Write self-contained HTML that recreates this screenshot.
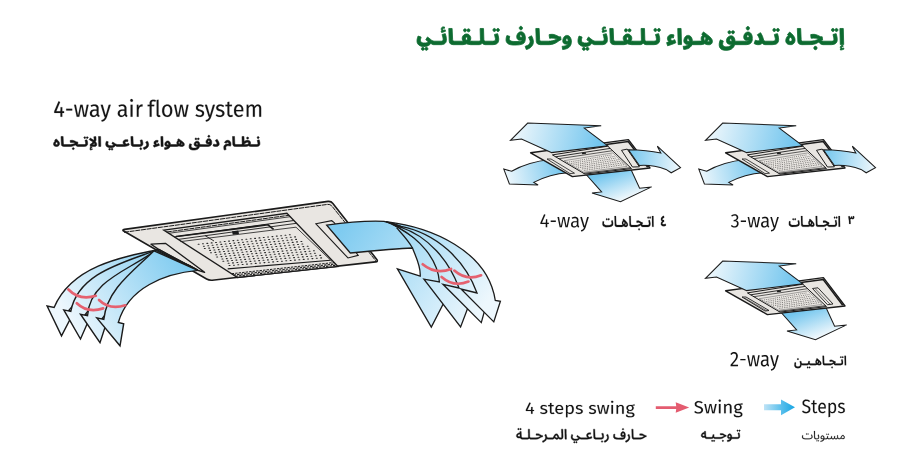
<!DOCTYPE html>
<html><head><meta charset="utf-8"><title>4-way airflow</title>
<style>html,body{margin:0;padding:0;background:#fff;width:904px;height:475px;overflow:hidden;font-family:"Liberation Sans",sans-serif}svg{display:block}</style>
</head><body><svg width="904" height="475" viewBox="0 0 904 475">
<defs>
<linearGradient id="gL" gradientUnits="userSpaceOnUse" x1="185" y1="262" x2="75" y2="330"><stop offset="0" stop-color="#7fcbf0"/><stop offset="1" stop-color="#edf7fd"/></linearGradient>
<linearGradient id="gR" gradientUnits="userSpaceOnUse" x1="340" y1="232" x2="470" y2="325"><stop offset="0" stop-color="#7fcbf0"/><stop offset="1" stop-color="#edf7fd"/></linearGradient>
</defs>
<path d="M124.1 231.3 Q121.5 229.8 124.5 229.4 L328.0 201.4 Q331.0 201.0 332.9 203.4 L376.6 259.2 Q378.5 261.6 375.5 261.9 L212.2 280.2 Q209.2 280.5 206.6 279.0Z" fill="#e9e6e2" stroke="#1b1b1b" stroke-width="1.6"/>
<path d="M124 232.3 L327.5 204.4 Q330.5 204 332.5 206.8 L375.8 260.8" fill="none" stroke="#1b1b1b" stroke-width="1.0" stroke-dasharray="5 0.7"/>
<path d="M163.8 230.1 L286.9 213.3 L338.0 266.5 L237.5 277.5Z" fill="#e9e6e2" stroke="#1b1b1b" stroke-width="1.3"/>
<path d="M166.8 232.0 L288.9 215.3" stroke="#1b1b1b" stroke-width="1.0" stroke-dasharray="5 0.7"/>
<path d="M168.8 233.3 L290.2 216.7" stroke="#1b1b1b" stroke-width="0.8"/>
<path d="M174.3 236.9 L293.9 220.5" stroke="#1b1b1b" stroke-width="1.0"/>
<path d="M176 236.5 L268 224.8 L273.6 229.4" fill="none" stroke="#1b1b1b" stroke-width="1.6"/>
<path d="M232 231.3 L238.3 230.5 L239 234 L232.8 234.8Z" fill="#1b1b1b"/>
<path d="M205 235.5 L214 241" fill="none" stroke="#1b1b1b" stroke-width="0.9"/>
<path d="M178.3 239.4 L296.5 223.3" stroke="#1b1b1b" stroke-width="0.9"/>
<path d="M180.5 241.6 L296.0 227.2 L332.0 261.5" fill="none" stroke="#1b1b1b" stroke-width="0.8"/>
<path d="M227.7 268.9 L330.5 260.2" fill="none" stroke="#1b1b1b" stroke-width="1.1"/>
<path d="M198.18 244.3h0.9M202.52 243.8h0.9M206.86 243.4h0.9M211.21 242.9h0.9M215.55 242.5h0.9M219.89 242.0h0.9M224.23 241.5h0.9M228.57 241.1h0.9M232.92 240.6h0.9M237.26 240.2h0.9M241.60 239.7h0.9M245.94 239.3h0.9M250.28 238.8h0.9M254.63 238.4h0.9M258.97 237.9h0.9M263.31 237.5h0.9M267.65 237.0h0.9M271.99 236.6h0.9M276.34 236.1h0.9M280.68 235.7h0.9M285.02 235.2h0.9M289.36 234.8h0.9M203.44 246.2h0.9M207.79 245.7h0.9M212.13 245.3h0.9M216.48 244.8h0.9M220.82 244.4h0.9M225.16 244.0h0.9M229.51 243.5h0.9M233.85 243.1h0.9M238.20 242.6h0.9M242.54 242.2h0.9M246.88 241.7h0.9M251.23 241.3h0.9M255.57 240.9h0.9M259.92 240.4h0.9M264.26 240.0h0.9M268.60 239.5h0.9M272.95 239.1h0.9M277.29 238.7h0.9M281.64 238.2h0.9M285.98 237.8h0.9M290.32 237.3h0.9M294.67 236.9h0.9M204.36 248.5h0.9M208.71 248.1h0.9M213.06 247.6h0.9M217.40 247.2h0.9M221.75 246.8h0.9M226.09 246.3h0.9M230.44 245.9h0.9M234.79 245.5h0.9M239.13 245.0h0.9M243.48 244.6h0.9M247.82 244.2h0.9M252.17 243.7h0.9M256.52 243.3h0.9M260.86 242.9h0.9M265.21 242.5h0.9M269.55 242.0h0.9M273.90 241.6h0.9M278.25 241.2h0.9M282.59 240.7h0.9M286.94 240.3h0.9M291.29 239.9h0.9M295.63 239.4h0.9M209.63 250.4h0.9M213.98 250.0h0.9M218.33 249.6h0.9M222.67 249.2h0.9M227.02 248.7h0.9M231.37 248.3h0.9M235.72 247.9h0.9M240.07 247.5h0.9M244.41 247.0h0.9M248.76 246.6h0.9M253.11 246.2h0.9M257.46 245.8h0.9M261.81 245.3h0.9M266.16 244.9h0.9M270.50 244.5h0.9M274.85 244.1h0.9M279.20 243.6h0.9M283.55 243.2h0.9M287.90 242.8h0.9M292.24 242.4h0.9M296.59 241.9h0.9M300.94 241.5h0.9M210.55 252.8h0.9M214.90 252.4h0.9M219.25 251.9h0.9M223.60 251.5h0.9M227.95 251.1h0.9M232.30 250.7h0.9M236.65 250.3h0.9M241.00 249.9h0.9M245.35 249.4h0.9M249.70 249.0h0.9M254.05 248.6h0.9M258.40 248.2h0.9M262.75 247.8h0.9M267.10 247.4h0.9M271.45 247.0h0.9M275.80 246.5h0.9M280.15 246.1h0.9M284.50 245.7h0.9M288.85 245.3h0.9M293.20 244.9h0.9M297.55 244.5h0.9M301.90 244.0h0.9M215.81 254.7h0.9M220.17 254.3h0.9M224.52 253.9h0.9M228.87 253.5h0.9M233.22 253.1h0.9M237.58 252.7h0.9M241.93 252.3h0.9M246.28 251.8h0.9M250.63 251.4h0.9M254.98 251.0h0.9M259.34 250.6h0.9M263.69 250.2h0.9M268.04 249.8h0.9M272.39 249.4h0.9M276.75 249.0h0.9M281.10 248.6h0.9M285.45 248.2h0.9M289.80 247.8h0.9M294.16 247.4h0.9M298.51 247.0h0.9M302.86 246.6h0.9M307.21 246.2h0.9M216.73 257.0h0.9M221.08 256.6h0.9M225.44 256.2h0.9M229.79 255.8h0.9M234.15 255.4h0.9M238.50 255.0h0.9M242.86 254.6h0.9M247.21 254.2h0.9M251.56 253.8h0.9M255.92 253.4h0.9M260.27 253.0h0.9M264.63 252.6h0.9M268.98 252.3h0.9M273.34 251.9h0.9M277.69 251.5h0.9M282.04 251.1h0.9M286.40 250.7h0.9M290.75 250.3h0.9M295.11 249.9h0.9M299.46 249.5h0.9M303.82 249.1h0.9M308.17 248.7h0.9M222.00 259.0h0.9M226.36 258.6h0.9M230.71 258.2h0.9M235.07 257.8h0.9M239.42 257.4h0.9M243.78 257.0h0.9M248.14 256.6h0.9M252.49 256.2h0.9M256.85 255.8h0.9M261.21 255.5h0.9M265.56 255.1h0.9M269.92 254.7h0.9M274.28 254.3h0.9M278.63 253.9h0.9M282.99 253.5h0.9M287.35 253.1h0.9M291.70 252.7h0.9M296.06 252.3h0.9M300.41 252.0h0.9M304.77 251.6h0.9M309.13 251.2h0.9M313.48 250.8h0.9M222.91 261.3h0.9M227.27 260.9h0.9M231.63 260.5h0.9M235.99 260.1h0.9M240.35 259.8h0.9M244.70 259.4h0.9M249.06 259.0h0.9M253.42 258.6h0.9M257.78 258.2h0.9M262.14 257.9h0.9M266.50 257.5h0.9M270.86 257.1h0.9M275.21 256.7h0.9M279.57 256.3h0.9M283.93 256.0h0.9M288.29 255.6h0.9M292.65 255.2h0.9M297.01 254.8h0.9M301.36 254.4h0.9M305.72 254.1h0.9M310.08 253.7h0.9M314.44 253.3h0.9M228.18 263.2h0.9M232.54 262.9h0.9M236.91 262.5h0.9M241.27 262.1h0.9M245.63 261.7h0.9M249.99 261.4h0.9M254.35 261.0h0.9M258.71 260.6h0.9M263.07 260.3h0.9M267.43 259.9h0.9M271.79 259.5h0.9M276.15 259.1h0.9M280.51 258.8h0.9M284.87 258.4h0.9M289.23 258.0h0.9M293.59 257.6h0.9M297.95 257.3h0.9M302.31 256.9h0.9M306.67 256.5h0.9M311.03 256.2h0.9M315.39 255.8h0.9M319.76 255.4h0.9M229.10 265.5h0.9M233.46 265.2h0.9M237.82 264.8h0.9M242.18 264.5h0.9M246.55 264.1h0.9M250.91 263.7h0.9M255.27 263.4h0.9M259.63 263.0h0.9M264.00 262.6h0.9M268.36 262.3h0.9M272.72 261.9h0.9M277.08 261.5h0.9M281.45 261.2h0.9M285.81 260.8h0.9M290.17 260.5h0.9M294.53 260.1h0.9M298.90 259.7h0.9M303.26 259.4h0.9M307.62 259.0h0.9M311.98 258.6h0.9M316.35 258.3h0.9M320.71 257.9h0.9" stroke="#2a2a2a" stroke-width="1.10" stroke-linecap="round" fill="none"/>
<path d="M231.7 273.7 L334.2 262.5" stroke="#1b1b1b" stroke-width="1.0" stroke-dasharray="2.4 1.1"/>
<path d="M233.6 275.0 L335.5 263.9" stroke="#1b1b1b" stroke-width="1.1" stroke-dasharray="2.4 1.1"/>
<path d="M235.6 276.3 L336.8 265.2" stroke="#1b1b1b" stroke-width="1.1" stroke-dasharray="2.4 1.1"/>
<path d="M151.0 244.2 L165.4 243.3 L204.6 272.3 L197.8 270.4 L159.0 249.6Z" fill="#e9e6e2" stroke="#1b1b1b" stroke-width="1.3" stroke-linejoin="round"/>
<path d="M315.9 223.8 L331.7 220.7 L334.2 222.6 L358.2 255.4 L348.0 258.0Z" fill="#e9e6e2" stroke="#1b1b1b" stroke-width="1.1"/>
<path d="M159.0 249.6 C120.1 257.2 71.5 266.5 54.1 307.5 L47.1 306.0 L61.5 335.9 L74.0 311.8 L68.6 310.6 C97.9 274.5 147.7 239.3 197.8 270.4Z" fill="url(#gL)" stroke="#1b1b1b" stroke-width="1.4" stroke-linejoin="miter" stroke-miterlimit="8"/>
<path d="M157.0 249.8 C125.6 262.3 78.1 272.2 70.8 311.4 L63.8 309.9 L80.5 339.0 L90.7 315.7 L85.3 314.5 C110.2 281.4 149.8 241.2 197.8 270.4Z" fill="url(#gL)" stroke="#1b1b1b" stroke-width="1.4" stroke-linejoin="miter" stroke-miterlimit="8"/>
<path d="M155.5 250.2 C131.7 269.4 89.8 279.6 87.5 315.7 L80.5 314.2 L100.0 342.6 L107.4 320.0 L102.0 318.8 C125.6 291.9 143.6 235.0 197.8 270.4Z" fill="url(#gL)" stroke="#1b1b1b" stroke-width="1.4" stroke-linejoin="miter" stroke-miterlimit="8"/>
<path d="M154.0 250.8 C134.0 270.7 107.0 288.8 103.8 319.4 L96.8 317.9 L120.0 345.8 L123.7 323.7 L118.3 322.5 C128.3 287.5 164.9 273.5 197.8 270.4Z" fill="url(#gL)" stroke="#1b1b1b" stroke-width="1.4" stroke-linejoin="miter" stroke-miterlimit="8"/>
<path d="M68.4 289.5 Q79.4 300.8 95.8 295.8" fill="none" stroke="#e5616f" stroke-width="2.7" stroke-linecap="round"/>
<path d="M76.8 303.2 Q87.4 313.4 103.2 308.4" fill="none" stroke="#e5616f" stroke-width="2.7" stroke-linecap="round"/>
<path d="M99.0 300.0 Q109.5 310.3 125.3 305.3" fill="none" stroke="#e5616f" stroke-width="2.7" stroke-linecap="round"/>
<path d="M326.7 225.2 C345 222.5 365 220.5 384 221.3 L392.0 223.5 L422.0 242.6 C435.6 255.0 445.0 272.9 444.0 291.8 L449.0 292.8 L431.3 327.1 L397.4 268.8 L420.2 276.2 C421.0 266.2 415.8 257.1 412.5 248.0 C400 248.3 375 250.5 350.3 253 Z" fill="url(#gR)" stroke="#1b1b1b" stroke-width="1.3" stroke-linejoin="miter" stroke-miterlimit="8"/>
<path d="M392.0 223.5 L399.0 227.7 C418.9 239.0 437.5 258.1 439.4 282.0 L423.9 279.2 L460.6 327.0 L471.3 298.8 L466.3 297.8 C455.8 263.0 429.4 231.4 392.0 223.5Z" fill="url(#gR)" stroke="#1b1b1b" stroke-width="1.3" stroke-linejoin="miter" stroke-miterlimit="8"/>
<path d="M392.0 223.5 L400.0 227.0 C428.5 236.2 449.0 260.7 459.0 288.0 L443.0 284.3 L481.3 322.6 L487.0 302.0 L482.0 301.0 C473.1 259.0 433.5 229.4 392.0 223.5Z" fill="url(#gR)" stroke="#1b1b1b" stroke-width="1.3" stroke-linejoin="miter" stroke-miterlimit="8"/>
<path d="M392.0 223.5 L401.0 226.4 C436.2 233.3 465.1 259.8 477.0 293.0 L461.0 289.0 L493.8 321.9 L500.4 301.3 L495.3 300.5 C487.6 250.2 430.7 227.0 386.0 221.6Z" fill="url(#gR)" stroke="#1b1b1b" stroke-width="1.3" stroke-linejoin="miter" stroke-miterlimit="8"/>
<path d="M396.5 227.7 C402 234 408 240 412.5 248" fill="none" stroke="#1b1b1b" stroke-width="1.2"/>
<path d="M384 221 C392 222 398 224 404 228 L396 227 Z" fill="#1b1b1b"/>
<path d="M422.7 264.3 Q435.5 275.0 451.1 269.0" fill="none" stroke="#e5616f" stroke-width="2.7" stroke-linecap="round"/>
<path d="M441.6 276.9 Q453.7 287.6 468.5 281.6" fill="none" stroke="#e5616f" stroke-width="2.7" stroke-linecap="round"/>
<path d="M454.3 270.6 Q466.4 281.3 481.1 275.3" fill="none" stroke="#e5616f" stroke-width="2.7" stroke-linecap="round"/>
<defs><linearGradient id="sg1" gradientUnits="userSpaceOnUse" x1="562.0" y1="166.0" x2="506.0" y2="178.0"><stop offset="0" stop-color="#74c6ee"/><stop offset="1" stop-color="#eef7fc"/></linearGradient><linearGradient id="sg2" gradientUnits="userSpaceOnUse" x1="610.0" y1="172.0" x2="620.0" y2="200.0"><stop offset="0" stop-color="#74c6ee"/><stop offset="1" stop-color="#eef7fc"/></linearGradient><linearGradient id="sg3" gradientUnits="userSpaceOnUse" x1="598.0" y1="146.0" x2="515.0" y2="128.0"><stop offset="0" stop-color="#74c6ee"/><stop offset="1" stop-color="#eef7fc"/></linearGradient><linearGradient id="sg4" gradientUnits="userSpaceOnUse" x1="628.0" y1="157.0" x2="680.0" y2="166.0"><stop offset="0" stop-color="#74c6ee"/><stop offset="1" stop-color="#eef7fc"/></linearGradient></defs>
<path d="M550.3 159.6 Q528.0 162.0 511.6 171.3 L503.8 169.1 L509.4 183.9 L538.1 185.0 L533.7 182.4 Q550.0 174.0 568.0 172.8 Z" fill="url(#sg1)" stroke="#1b1b1b" stroke-width="1.05" stroke-linejoin="miter"/>
<path d="M585.7 174.0 L601.6 191.9 L592.0 193.0 L620.5 201.8 L651.6 186.9 L639.6 188.2 L631.0 169.5Z" fill="url(#sg2)" stroke="#1b1b1b" stroke-width="1.05" stroke-linejoin="miter"/>
<path d="M530.6 152.8 L628.4 139.6 L650.0 168.0 L572.4 176.6Z" fill="#e9e6e2" stroke="#1b1b1b" stroke-width="1.4" stroke-linejoin="round"/>
<path d="M606.0 144.4 L628.2 141.5 L647.7 167.2" fill="none" stroke="#1b1b1b" stroke-width="1.5"/>
<path d="M552.4 154.9 L607.8 146.2 L631.5 168.6 L585.0 174.1Z" fill="#e9e6e2" stroke="#1b1b1b" stroke-width="1.0"/>
<path d="M555.7 156.8 L610.2 148.4" stroke="#1b1b1b" stroke-width="0.9"/>
<path d="M558.9 158.7 L612.5 150.7" stroke="#1b1b1b" stroke-width="0.7"/>
<path d="M582.0 153.6 L586.0 153.0" stroke="#1b1b1b" stroke-width="1.5"/>
<path d="M564.2 160.7 L612.9 152.9 L627.1 166.4 L583.7 172.2Z" fill="#ebe8e4" stroke="#555" stroke-width="0.5"/>
<path d="M567.54 162.3h0.01M569.43 161.9h0.01M571.32 161.6h0.01M573.21 161.3h0.01M575.10 161.0h0.01M576.99 160.7h0.01M578.88 160.4h0.01M580.77 160.0h0.01M582.66 159.7h0.01M584.55 159.4h0.01M586.44 159.1h0.01M588.33 158.8h0.01M590.22 158.5h0.01M592.11 158.1h0.01M594.00 157.8h0.01M595.89 157.5h0.01M597.78 157.2h0.01M599.67 156.9h0.01M601.56 156.6h0.01M603.45 156.2h0.01M605.33 155.9h0.01M607.22 155.6h0.01M609.11 155.3h0.01M611.00 155.0h0.01M571.26 163.5h0.01M573.12 163.2h0.01M574.98 162.9h0.01M576.83 162.6h0.01M578.69 162.2h0.01M580.55 161.9h0.01M582.41 161.6h0.01M584.26 161.3h0.01M586.12 161.0h0.01M587.98 160.7h0.01M589.84 160.4h0.01M591.69 160.1h0.01M593.55 159.8h0.01M595.41 159.5h0.01M597.27 159.2h0.01M599.13 158.9h0.01M600.98 158.6h0.01M602.84 158.3h0.01M604.70 158.0h0.01M606.56 157.7h0.01M608.41 157.4h0.01M610.27 157.1h0.01M612.13 156.8h0.01M613.99 156.4h0.01M573.12 165.0h0.01M574.94 164.7h0.01M576.77 164.4h0.01M578.60 164.1h0.01M580.42 163.8h0.01M582.25 163.5h0.01M584.07 163.2h0.01M585.90 162.9h0.01M587.72 162.6h0.01M589.55 162.3h0.01M591.38 162.0h0.01M593.20 161.8h0.01M595.03 161.5h0.01M596.85 161.2h0.01M598.68 160.9h0.01M600.51 160.6h0.01M602.33 160.3h0.01M604.16 160.0h0.01M605.98 159.7h0.01M607.81 159.4h0.01M609.64 159.1h0.01M611.46 158.8h0.01M613.29 158.5h0.01M615.11 158.2h0.01M576.80 166.2h0.01M578.59 165.9h0.01M580.39 165.6h0.01M582.18 165.4h0.01M583.98 165.1h0.01M585.77 164.8h0.01M587.57 164.5h0.01M589.36 164.2h0.01M591.15 163.9h0.01M592.95 163.7h0.01M594.74 163.4h0.01M596.54 163.1h0.01M598.33 162.8h0.01M600.12 162.5h0.01M601.92 162.3h0.01M603.71 162.0h0.01M605.51 161.7h0.01M607.30 161.4h0.01M609.10 161.1h0.01M610.89 160.8h0.01M612.68 160.6h0.01M614.48 160.3h0.01M616.27 160.0h0.01M618.07 159.7h0.01M578.69 167.7h0.01M580.45 167.4h0.01M582.21 167.2h0.01M583.98 166.9h0.01M585.74 166.6h0.01M587.50 166.4h0.01M589.26 166.1h0.01M591.03 165.8h0.01M592.79 165.5h0.01M594.55 165.3h0.01M596.31 165.0h0.01M598.08 164.7h0.01M599.84 164.5h0.01M601.60 164.2h0.01M603.36 163.9h0.01M605.13 163.6h0.01M606.89 163.4h0.01M608.65 163.1h0.01M610.41 162.8h0.01M612.18 162.6h0.01M613.94 162.3h0.01M615.70 162.0h0.01M617.46 161.7h0.01M619.22 161.5h0.01M582.34 168.9h0.01M584.07 168.7h0.01M585.80 168.4h0.01M587.53 168.2h0.01M589.26 167.9h0.01M590.99 167.6h0.01M592.73 167.4h0.01M594.46 167.1h0.01M596.19 166.9h0.01M597.92 166.6h0.01M599.65 166.3h0.01M601.38 166.1h0.01M603.11 165.8h0.01M604.84 165.6h0.01M606.57 165.3h0.01M608.30 165.1h0.01M610.03 164.8h0.01M611.76 164.5h0.01M613.49 164.3h0.01M615.22 164.0h0.01M616.95 163.8h0.01M618.68 163.5h0.01M620.41 163.2h0.01M622.15 163.0h0.01M584.26 170.4h0.01M585.96 170.2h0.01M587.66 169.9h0.01M589.36 169.7h0.01M591.06 169.4h0.01M592.76 169.2h0.01M594.46 168.9h0.01M596.15 168.7h0.01M597.85 168.5h0.01M599.55 168.2h0.01M601.25 168.0h0.01M602.95 167.7h0.01M604.65 167.5h0.01M606.35 167.2h0.01M608.05 167.0h0.01M609.74 166.7h0.01M611.44 166.5h0.01M613.14 166.2h0.01M614.84 166.0h0.01M616.54 165.7h0.01M618.24 165.5h0.01M619.94 165.2h0.01M621.64 165.0h0.01M623.34 164.7h0.01" stroke="#6a6866" stroke-width="1.00" stroke-linecap="round" fill="none"/>
<path d="M583.7 173.3 L630.6 167.7" stroke="#1b1b1b" stroke-width="0.8"/>
<path d="M547.0 159.0 L551.0 159.0 L574.5 173.2 L570.0 173.6Z" fill="#e9e6e2" stroke="#1b1b1b" stroke-width="0.8"/>
<path d="M621.5 150.3 L627.2 149.1 L639.4 166.8 L632.5 167.0Z" fill="#e9e6e2" stroke="#1b1b1b" stroke-width="1.0"/>
<path d="M551.3 152.6 L521.5 139.0 L510.5 140.3 L527.7 123.1 L601.2 125.7 L584.3 128.1 L607.8 145.8Z" fill="url(#sg3)" stroke="#1b1b1b" stroke-width="1.05" stroke-linejoin="miter"/>
<path d="M628.4 149.7 Q647.0 150.0 660.8 153.1 L657.3 146.2 L680.5 167.6 L671.2 172.8 L666.0 169.4 Q652.0 164.5 639.4 165.5 Z" fill="url(#sg4)" stroke="#1b1b1b" stroke-width="1.05" stroke-linejoin="miter"/>
<defs><linearGradient id="sg5" gradientUnits="userSpaceOnUse" x1="757.0" y1="166.0" x2="701.0" y2="178.0"><stop offset="0" stop-color="#74c6ee"/><stop offset="1" stop-color="#eef7fc"/></linearGradient><linearGradient id="sg6" gradientUnits="userSpaceOnUse" x1="793.0" y1="146.0" x2="710.0" y2="128.0"><stop offset="0" stop-color="#74c6ee"/><stop offset="1" stop-color="#eef7fc"/></linearGradient><linearGradient id="sg7" gradientUnits="userSpaceOnUse" x1="823.0" y1="157.0" x2="875.0" y2="166.0"><stop offset="0" stop-color="#74c6ee"/><stop offset="1" stop-color="#eef7fc"/></linearGradient></defs>
<path d="M745.3 159.6 Q723.0 162.0 706.6 171.3 L698.8 169.1 L704.4 183.9 L733.1 185.0 L728.7 182.4 Q745.0 174.0 763.0 172.8 Z" fill="url(#sg5)" stroke="#1b1b1b" stroke-width="1.05" stroke-linejoin="miter"/>
<path d="M725.6 152.8 L823.4 139.6 L845.0 168.0 L767.4 176.6Z" fill="#e9e6e2" stroke="#1b1b1b" stroke-width="1.4" stroke-linejoin="round"/>
<path d="M801.0 144.4 L823.2 141.5 L842.7 167.2" fill="none" stroke="#1b1b1b" stroke-width="1.5"/>
<path d="M747.4 154.9 L802.8 146.2 L826.5 168.6 L780.0 174.1Z" fill="#e9e6e2" stroke="#1b1b1b" stroke-width="1.0"/>
<path d="M750.7 156.8 L805.2 148.4" stroke="#1b1b1b" stroke-width="0.9"/>
<path d="M753.9 158.7 L807.5 150.7" stroke="#1b1b1b" stroke-width="0.7"/>
<path d="M777.0 153.6 L781.0 153.0" stroke="#1b1b1b" stroke-width="1.5"/>
<path d="M759.2 160.7 L807.9 152.9 L822.1 166.4 L778.7 172.2Z" fill="#ebe8e4" stroke="#555" stroke-width="0.5"/>
<path d="M762.54 162.3h0.01M764.43 161.9h0.01M766.32 161.6h0.01M768.21 161.3h0.01M770.10 161.0h0.01M771.99 160.7h0.01M773.88 160.4h0.01M775.77 160.0h0.01M777.66 159.7h0.01M779.55 159.4h0.01M781.44 159.1h0.01M783.33 158.8h0.01M785.22 158.5h0.01M787.11 158.1h0.01M789.00 157.8h0.01M790.89 157.5h0.01M792.78 157.2h0.01M794.67 156.9h0.01M796.56 156.6h0.01M798.45 156.2h0.01M800.33 155.9h0.01M802.22 155.6h0.01M804.11 155.3h0.01M806.00 155.0h0.01M766.26 163.5h0.01M768.12 163.2h0.01M769.98 162.9h0.01M771.83 162.6h0.01M773.69 162.2h0.01M775.55 161.9h0.01M777.41 161.6h0.01M779.26 161.3h0.01M781.12 161.0h0.01M782.98 160.7h0.01M784.84 160.4h0.01M786.69 160.1h0.01M788.55 159.8h0.01M790.41 159.5h0.01M792.27 159.2h0.01M794.13 158.9h0.01M795.98 158.6h0.01M797.84 158.3h0.01M799.70 158.0h0.01M801.56 157.7h0.01M803.41 157.4h0.01M805.27 157.1h0.01M807.13 156.8h0.01M808.99 156.4h0.01M768.12 165.0h0.01M769.94 164.7h0.01M771.77 164.4h0.01M773.60 164.1h0.01M775.42 163.8h0.01M777.25 163.5h0.01M779.07 163.2h0.01M780.90 162.9h0.01M782.72 162.6h0.01M784.55 162.3h0.01M786.38 162.0h0.01M788.20 161.8h0.01M790.03 161.5h0.01M791.85 161.2h0.01M793.68 160.9h0.01M795.51 160.6h0.01M797.33 160.3h0.01M799.16 160.0h0.01M800.98 159.7h0.01M802.81 159.4h0.01M804.64 159.1h0.01M806.46 158.8h0.01M808.29 158.5h0.01M810.11 158.2h0.01M771.80 166.2h0.01M773.59 165.9h0.01M775.39 165.6h0.01M777.18 165.4h0.01M778.98 165.1h0.01M780.77 164.8h0.01M782.57 164.5h0.01M784.36 164.2h0.01M786.15 163.9h0.01M787.95 163.7h0.01M789.74 163.4h0.01M791.54 163.1h0.01M793.33 162.8h0.01M795.12 162.5h0.01M796.92 162.3h0.01M798.71 162.0h0.01M800.51 161.7h0.01M802.30 161.4h0.01M804.10 161.1h0.01M805.89 160.8h0.01M807.68 160.6h0.01M809.48 160.3h0.01M811.27 160.0h0.01M813.07 159.7h0.01M773.69 167.7h0.01M775.45 167.4h0.01M777.21 167.2h0.01M778.98 166.9h0.01M780.74 166.6h0.01M782.50 166.4h0.01M784.26 166.1h0.01M786.03 165.8h0.01M787.79 165.5h0.01M789.55 165.3h0.01M791.31 165.0h0.01M793.08 164.7h0.01M794.84 164.5h0.01M796.60 164.2h0.01M798.36 163.9h0.01M800.13 163.6h0.01M801.89 163.4h0.01M803.65 163.1h0.01M805.41 162.8h0.01M807.18 162.6h0.01M808.94 162.3h0.01M810.70 162.0h0.01M812.46 161.7h0.01M814.22 161.5h0.01M777.34 168.9h0.01M779.07 168.7h0.01M780.80 168.4h0.01M782.53 168.2h0.01M784.26 167.9h0.01M785.99 167.6h0.01M787.73 167.4h0.01M789.46 167.1h0.01M791.19 166.9h0.01M792.92 166.6h0.01M794.65 166.3h0.01M796.38 166.1h0.01M798.11 165.8h0.01M799.84 165.6h0.01M801.57 165.3h0.01M803.30 165.1h0.01M805.03 164.8h0.01M806.76 164.5h0.01M808.49 164.3h0.01M810.22 164.0h0.01M811.95 163.8h0.01M813.68 163.5h0.01M815.41 163.2h0.01M817.15 163.0h0.01M779.26 170.4h0.01M780.96 170.2h0.01M782.66 169.9h0.01M784.36 169.7h0.01M786.06 169.4h0.01M787.76 169.2h0.01M789.46 168.9h0.01M791.15 168.7h0.01M792.85 168.5h0.01M794.55 168.2h0.01M796.25 168.0h0.01M797.95 167.7h0.01M799.65 167.5h0.01M801.35 167.2h0.01M803.05 167.0h0.01M804.74 166.7h0.01M806.44 166.5h0.01M808.14 166.2h0.01M809.84 166.0h0.01M811.54 165.7h0.01M813.24 165.5h0.01M814.94 165.2h0.01M816.64 165.0h0.01M818.34 164.7h0.01" stroke="#6a6866" stroke-width="1.00" stroke-linecap="round" fill="none"/>
<path d="M778.7 173.3 L825.6 167.7" stroke="#1b1b1b" stroke-width="0.8"/>
<path d="M742.0 159.0 L746.0 159.0 L769.5 173.2 L765.0 173.6Z" fill="#e9e6e2" stroke="#1b1b1b" stroke-width="0.8"/>
<path d="M816.5 150.3 L822.2 149.1 L834.4 166.8 L827.5 167.0Z" fill="#e9e6e2" stroke="#1b1b1b" stroke-width="1.0"/>
<path d="M746.3 152.6 L716.5 139.0 L705.5 140.3 L722.7 123.1 L796.2 125.7 L779.3 128.1 L802.8 145.8Z" fill="url(#sg6)" stroke="#1b1b1b" stroke-width="1.05" stroke-linejoin="miter"/>
<path d="M823.4 149.7 Q842.0 150.0 855.8 153.1 L852.3 146.2 L875.5 167.6 L866.2 172.8 L861.0 169.4 Q847.0 164.5 834.4 165.5 Z" fill="url(#sg7)" stroke="#1b1b1b" stroke-width="1.05" stroke-linejoin="miter"/>
<defs><linearGradient id="sg8" gradientUnits="userSpaceOnUse" x1="805.0" y1="310.0" x2="815.0" y2="338.0"><stop offset="0" stop-color="#74c6ee"/><stop offset="1" stop-color="#eef7fc"/></linearGradient><linearGradient id="sg9" gradientUnits="userSpaceOnUse" x1="793.0" y1="284.0" x2="710.0" y2="266.0"><stop offset="0" stop-color="#74c6ee"/><stop offset="1" stop-color="#eef7fc"/></linearGradient></defs>
<path d="M780.7 312.0 L796.6 329.9 L787.0 331.0 L815.5 339.8 L846.6 324.9 L834.6 326.2 L826.0 307.5Z" fill="url(#sg8)" stroke="#1b1b1b" stroke-width="1.05" stroke-linejoin="miter"/>
<path d="M725.6 290.8 L823.4 277.6 L845.0 306.0 L767.4 314.6Z" fill="#e9e6e2" stroke="#1b1b1b" stroke-width="1.4" stroke-linejoin="round"/>
<path d="M801.0 282.4 L823.2 279.5 L842.7 305.2" fill="none" stroke="#1b1b1b" stroke-width="1.5"/>
<path d="M747.4 292.9 L802.8 284.2 L826.5 306.6 L780.0 312.1Z" fill="#e9e6e2" stroke="#1b1b1b" stroke-width="1.0"/>
<path d="M750.7 294.8 L805.2 286.4" stroke="#1b1b1b" stroke-width="0.9"/>
<path d="M753.9 296.7 L807.5 288.7" stroke="#1b1b1b" stroke-width="0.7"/>
<path d="M777.0 291.6 L781.0 291.0" stroke="#1b1b1b" stroke-width="1.5"/>
<path d="M759.2 298.7 L807.9 290.9 L822.1 304.4 L778.7 310.2Z" fill="#ebe8e4" stroke="#555" stroke-width="0.5"/>
<path d="M762.54 300.3h0.01M764.43 299.9h0.01M766.32 299.6h0.01M768.21 299.3h0.01M770.10 299.0h0.01M771.99 298.7h0.01M773.88 298.4h0.01M775.77 298.0h0.01M777.66 297.7h0.01M779.55 297.4h0.01M781.44 297.1h0.01M783.33 296.8h0.01M785.22 296.5h0.01M787.11 296.1h0.01M789.00 295.8h0.01M790.89 295.5h0.01M792.78 295.2h0.01M794.67 294.9h0.01M796.56 294.6h0.01M798.45 294.2h0.01M800.33 293.9h0.01M802.22 293.6h0.01M804.11 293.3h0.01M806.00 293.0h0.01M766.26 301.5h0.01M768.12 301.2h0.01M769.98 300.9h0.01M771.83 300.6h0.01M773.69 300.2h0.01M775.55 299.9h0.01M777.41 299.6h0.01M779.26 299.3h0.01M781.12 299.0h0.01M782.98 298.7h0.01M784.84 298.4h0.01M786.69 298.1h0.01M788.55 297.8h0.01M790.41 297.5h0.01M792.27 297.2h0.01M794.13 296.9h0.01M795.98 296.6h0.01M797.84 296.3h0.01M799.70 296.0h0.01M801.56 295.7h0.01M803.41 295.4h0.01M805.27 295.1h0.01M807.13 294.8h0.01M808.99 294.4h0.01M768.12 303.0h0.01M769.94 302.7h0.01M771.77 302.4h0.01M773.60 302.1h0.01M775.42 301.8h0.01M777.25 301.5h0.01M779.07 301.2h0.01M780.90 300.9h0.01M782.72 300.6h0.01M784.55 300.3h0.01M786.38 300.0h0.01M788.20 299.8h0.01M790.03 299.5h0.01M791.85 299.2h0.01M793.68 298.9h0.01M795.51 298.6h0.01M797.33 298.3h0.01M799.16 298.0h0.01M800.98 297.7h0.01M802.81 297.4h0.01M804.64 297.1h0.01M806.46 296.8h0.01M808.29 296.5h0.01M810.11 296.2h0.01M771.80 304.2h0.01M773.59 303.9h0.01M775.39 303.6h0.01M777.18 303.4h0.01M778.98 303.1h0.01M780.77 302.8h0.01M782.57 302.5h0.01M784.36 302.2h0.01M786.15 301.9h0.01M787.95 301.7h0.01M789.74 301.4h0.01M791.54 301.1h0.01M793.33 300.8h0.01M795.12 300.5h0.01M796.92 300.3h0.01M798.71 300.0h0.01M800.51 299.7h0.01M802.30 299.4h0.01M804.10 299.1h0.01M805.89 298.8h0.01M807.68 298.6h0.01M809.48 298.3h0.01M811.27 298.0h0.01M813.07 297.7h0.01M773.69 305.7h0.01M775.45 305.4h0.01M777.21 305.2h0.01M778.98 304.9h0.01M780.74 304.6h0.01M782.50 304.4h0.01M784.26 304.1h0.01M786.03 303.8h0.01M787.79 303.5h0.01M789.55 303.3h0.01M791.31 303.0h0.01M793.08 302.7h0.01M794.84 302.5h0.01M796.60 302.2h0.01M798.36 301.9h0.01M800.13 301.6h0.01M801.89 301.4h0.01M803.65 301.1h0.01M805.41 300.8h0.01M807.18 300.6h0.01M808.94 300.3h0.01M810.70 300.0h0.01M812.46 299.7h0.01M814.22 299.5h0.01M777.34 306.9h0.01M779.07 306.7h0.01M780.80 306.4h0.01M782.53 306.2h0.01M784.26 305.9h0.01M785.99 305.6h0.01M787.73 305.4h0.01M789.46 305.1h0.01M791.19 304.9h0.01M792.92 304.6h0.01M794.65 304.3h0.01M796.38 304.1h0.01M798.11 303.8h0.01M799.84 303.6h0.01M801.57 303.3h0.01M803.30 303.1h0.01M805.03 302.8h0.01M806.76 302.5h0.01M808.49 302.3h0.01M810.22 302.0h0.01M811.95 301.8h0.01M813.68 301.5h0.01M815.41 301.2h0.01M817.15 301.0h0.01M779.26 308.4h0.01M780.96 308.2h0.01M782.66 307.9h0.01M784.36 307.7h0.01M786.06 307.4h0.01M787.76 307.2h0.01M789.46 306.9h0.01M791.15 306.7h0.01M792.85 306.5h0.01M794.55 306.2h0.01M796.25 306.0h0.01M797.95 305.7h0.01M799.65 305.5h0.01M801.35 305.2h0.01M803.05 305.0h0.01M804.74 304.7h0.01M806.44 304.5h0.01M808.14 304.2h0.01M809.84 304.0h0.01M811.54 303.7h0.01M813.24 303.5h0.01M814.94 303.2h0.01M816.64 303.0h0.01M818.34 302.7h0.01" stroke="#6a6866" stroke-width="1.00" stroke-linecap="round" fill="none"/>
<path d="M778.7 311.3 L825.6 305.7" stroke="#1b1b1b" stroke-width="0.8"/>
<path d="M742.0 297.0 L746.0 297.0 L769.0 310.5 L765.0 311.0Z" fill="#e9e6e2" stroke="#1b1b1b" stroke-width="0.9"/>
<path d="M744.5 298.0 L766.5 310.6" stroke="#1b1b1b" stroke-width="0.6"/>
<path d="M812.5 288.5 L818.0 287.8 L833.0 304.0 L827.5 304.7Z" fill="#e9e6e2" stroke="#1b1b1b" stroke-width="0.9"/>
<path d="M815.3 288.8 L830.3 304.4" stroke="#1b1b1b" stroke-width="0.6"/>
<path d="M746.3 290.6 L716.5 277.0 L705.5 278.3 L722.7 261.1 L796.2 263.7 L779.3 266.1 L802.8 283.8Z" fill="url(#sg9)" stroke="#1b1b1b" stroke-width="1.05" stroke-linejoin="miter"/>
<defs><linearGradient id="lgB" x1="0" y1="0" x2="1" y2="0"><stop offset="0" stop-color="#bfe3f6"/><stop offset="0.55" stop-color="#5cc0ec"/><stop offset="1" stop-color="#16a5e3"/></linearGradient></defs>
<path d="M655.8 406.2 L676.2 406.2 L675.7 402.2 L689.2 407.4 L675.7 412.7 L676.2 408.9 L655.8 408.9 Z" fill="#e45c70"/>
<path d="M764 404.2 L781 404.2 L781 399.5 L795 407.3 L781 415.2 L781 410.3 L764 410.3 Z" fill="url(#lgB)"/>
<path fill="#0d6b30" d="M587.08 47.33 586.66 47.51 586.16 48.04 586.00 48.49 586.00 49.20 586.16 49.64 586.66 50.18 587.08 50.35 587.74 50.35 588.16 50.18 588.66 49.64 588.82 49.29 588.82 48.40 588.66 48.04 588.16 47.51 587.74 47.33ZM583.50 47.33 583.09 47.51 582.59 48.04 582.42 48.49 582.42 49.11 582.59 49.64 583.09 50.18 583.50 50.35 584.17 50.35 584.58 50.18 585.08 49.64 585.25 49.29 585.25 48.40 585.08 48.04 584.58 47.51 584.17 47.33ZM426.10 47.33 425.52 47.60 425.27 47.86 425.02 48.40 425.02 49.29 425.52 50.09 426.10 50.35 426.68 50.35 427.26 50.09 427.60 49.73 427.85 49.20 427.85 48.49 427.68 48.04 427.26 47.60 426.68 47.33ZM422.53 47.33 421.86 47.69 421.45 48.40 421.45 49.20 421.78 49.91 422.11 50.18 422.53 50.35 423.19 50.35 423.69 50.09 424.11 49.64 424.27 49.20 424.27 48.49 424.11 48.04 423.61 47.51 423.19 47.33ZM814.95 46.35 814.46 46.62 813.96 47.33 813.87 47.60 813.96 48.75 814.54 49.46 815.20 49.73 816.03 49.64 816.45 49.38 816.87 48.84 817.03 48.22 816.95 47.42 816.78 47.06 816.28 46.53 815.87 46.35ZM843.04 45.46 842.46 45.37 841.63 45.46 841.05 45.73 840.55 46.26 840.30 47.24 840.38 47.78 840.63 48.31 841.05 48.66 840.22 48.93 840.55 50.09 842.30 49.73 843.96 49.11 843.63 47.95 842.71 48.31 842.38 48.31 841.71 47.78 841.55 47.33 841.63 46.97 842.05 46.62 843.04 46.71 843.13 46.00ZM531.56 35.77 528.57 37.37 529.90 40.31 530.15 41.46 530.15 42.08 529.73 43.33 529.24 44.04 528.49 44.75 527.41 45.46 525.25 46.26 525.25 46.53 526.24 49.46 526.82 49.38 528.49 48.75 530.32 47.69 531.73 46.35 532.31 45.55 532.89 44.40 533.31 42.88 533.39 40.93 532.81 38.53ZM568.63 35.77 567.21 35.41 566.55 35.41 565.64 35.68 564.89 36.13 564.22 36.75 563.23 38.44 562.81 40.13 562.81 41.64 562.98 42.26 563.31 42.88 564.22 43.68 565.22 44.04 566.55 44.13 567.55 43.86 567.71 44.04 567.05 44.84 565.80 45.64 563.97 46.17 562.23 46.26 562.15 46.35 562.64 49.55 565.47 49.11 567.71 48.22 569.21 47.15 569.79 46.53 570.46 45.55 570.87 44.66 571.37 42.44 571.37 40.93 571.12 39.33 570.37 37.46 569.29 36.21ZM566.55 38.62 567.05 38.53 567.38 38.70 567.80 39.24 568.21 40.93 568.05 41.19 567.46 41.37 566.72 41.37 566.05 41.02 565.88 40.66 565.88 39.77 566.05 39.24ZM673.92 34.88 672.59 34.61 670.85 34.61 670.10 34.79 668.94 35.41 668.19 36.21 667.86 36.75 667.61 37.37 667.44 38.26 667.52 39.42 668.02 40.66 669.02 41.82 666.61 42.62 667.61 45.82 671.68 44.48 675.83 42.80 674.75 39.68 672.34 40.66 672.01 40.66 671.26 40.22 670.85 39.51 670.76 39.06 670.85 38.62 671.35 37.99 671.85 37.82 672.68 37.82 673.42 37.99ZM607.27 37.55 607.02 36.21 606.27 33.64 603.12 34.44 603.62 36.21 604.11 38.70 604.11 39.86 603.95 40.39 603.53 40.84 603.20 41.02 602.20 41.19 595.06 41.19 593.97 40.93 592.65 40.22 590.48 38.62 588.49 36.93 587.08 39.24 586.83 39.86 588.32 40.84 588.91 41.55 588.82 42.00 588.41 42.44 587.58 42.80 586.50 42.97 584.25 42.97 582.67 42.44 581.84 41.64 581.59 41.11 581.43 40.22 581.51 39.24 582.09 37.10 579.10 36.04 578.68 37.10 578.18 38.97 578.02 40.13 578.02 41.64 578.18 42.53 578.60 43.60 578.93 44.13 579.68 44.93 580.26 45.37 581.51 46.00 583.25 46.44 584.17 46.44 584.25 46.53 586.58 46.44 588.57 45.91 590.48 44.84 591.32 44.04 591.81 43.24 592.65 43.95 593.48 44.40 594.56 44.66 602.62 44.66 604.70 44.22 605.28 43.95 606.03 43.42 606.77 42.53 607.11 41.82 607.35 40.75 607.44 39.51 607.35 39.42ZM446.21 37.19 445.80 35.33 445.21 33.55 444.88 33.73 442.14 34.44 442.14 34.70 442.80 37.02 443.14 39.06 443.05 40.13 442.64 40.75 441.89 41.11 441.23 41.19 434.00 41.19 432.75 40.84 431.50 40.13 427.51 36.93 425.77 39.77 427.43 40.93 427.93 41.64 427.85 42.00 427.43 42.44 426.52 42.80 425.44 42.97 423.27 42.97 422.44 42.80 421.53 42.35 420.86 41.64 420.62 41.19 420.45 40.39 420.45 39.68 421.11 37.10 418.12 36.04 417.54 37.55 417.04 39.86 417.04 41.73 417.29 42.88 417.71 43.77 418.79 45.02 420.53 46.00 422.28 46.44 423.19 46.44 423.27 46.53 425.60 46.44 427.60 45.91 428.84 45.29 429.59 44.75 430.26 44.13 430.84 43.24 431.92 44.13 433.50 44.66 441.56 44.66 442.31 44.57 443.72 44.22 444.55 43.77 445.13 43.33 445.71 42.62 446.13 41.73 446.38 40.57 446.38 38.35ZM754.12 43.51 755.45 44.22 757.53 44.66 759.19 44.66 760.10 44.48 761.18 44.04 762.18 43.15 763.10 44.04 764.01 44.48 765.01 44.66 772.82 44.66 772.90 44.57 774.56 44.48 775.65 44.22 776.64 43.77 777.64 42.88 778.30 41.73 778.55 40.66 778.64 39.24 778.55 39.15 778.47 37.37 777.56 33.73 777.22 33.64 774.40 34.44 775.31 38.62 775.23 40.04 775.06 40.39 774.56 40.84 773.73 41.11 772.82 41.11 772.74 41.19 765.51 41.19 764.43 40.93 763.68 40.13 762.60 36.57 761.35 33.99 760.60 32.75 760.44 32.66 757.36 34.70 758.69 36.93 759.52 38.97 759.44 40.31 759.11 40.66 758.69 40.84 757.28 40.84 756.03 40.48 755.37 40.13ZM789.61 32.04 787.45 34.70 788.28 35.41 787.11 36.75 786.20 38.44 785.87 39.51 785.78 41.11 786.03 42.17 786.37 42.88 787.45 43.95 789.11 44.57 791.19 44.66 792.68 44.22 793.68 43.51 794.26 42.80 794.76 41.82 795.01 40.84 795.09 40.13 795.01 40.04 795.01 39.06 794.59 37.55 793.51 35.68 791.44 33.46ZM790.35 37.19 790.52 37.19 791.02 37.64 791.52 38.26 791.85 38.88 792.02 39.51 792.02 40.13 791.77 40.75 791.44 41.11 790.85 41.37 790.19 41.37 789.61 41.19 789.11 40.75 788.86 39.95 789.11 38.79 789.52 38.08ZM751.79 34.88 751.13 33.64 750.30 32.75 749.72 32.39 748.64 32.04 747.47 32.04 746.31 32.39 745.06 33.37 744.40 34.35 743.82 36.04 743.73 37.55 743.82 38.08 744.15 38.88 744.81 39.68 745.73 40.22 746.39 40.39 747.64 40.39 748.47 40.13 748.72 40.22 748.30 40.75 747.80 41.02 746.56 41.19 735.17 41.19 735.01 41.02 734.92 39.86 734.42 38.17 733.84 37.19 733.26 36.57 732.35 36.04 731.68 35.86 730.52 35.86 729.44 36.13 728.36 36.75 727.19 38.08 726.78 38.97 726.53 39.86 726.45 40.57 726.53 41.73 727.03 42.88 727.86 43.68 729.27 44.31 730.60 44.57 731.18 44.57 731.27 44.66 731.18 44.93 730.35 45.82 729.94 46.09 728.36 46.71 725.86 46.89 724.12 46.44 723.21 45.73 722.79 45.02 722.62 44.40 722.71 42.97 723.29 41.02 720.30 39.86 719.55 42.00 719.22 43.77 719.22 45.55 719.55 46.97 720.13 48.04 720.96 48.93 722.12 49.64 724.20 50.26 727.03 50.35 729.44 49.91 730.85 49.38 731.76 48.84 732.43 48.31 733.68 46.89 734.26 45.82 734.67 44.66 746.23 44.66 748.22 44.40 749.63 43.95 750.63 43.33 751.29 42.62 752.04 41.02 752.29 39.77 752.29 38.53 752.38 38.44 752.29 38.35 752.21 36.39ZM730.27 38.88 730.60 38.70 731.02 38.70 731.43 39.06 731.76 40.22 731.76 41.28 731.68 41.37 730.68 41.28 729.94 40.84 729.77 40.48 729.77 39.68ZM747.47 34.97 748.05 34.88 748.64 35.41 748.88 35.95 749.05 36.75 748.97 37.37 747.89 37.55 747.31 37.37 747.06 37.10 746.89 36.75 746.89 35.95 747.14 35.33ZM712.32 40.39 711.82 39.15 711.32 38.44 709.99 37.02 707.83 35.15 703.51 31.95 703.26 32.12 701.76 34.44 702.84 35.15 702.93 35.33 702.26 35.77 701.85 36.21 701.35 37.19 701.18 37.82 701.18 39.42 701.43 40.39 701.76 41.02 701.68 41.11 692.54 41.19 692.37 40.93 692.29 39.77 691.87 38.35 691.29 37.19 690.54 36.30 689.55 35.68 688.72 35.41 687.55 35.41 686.89 35.59 685.89 36.21 685.06 37.10 684.56 37.90 684.15 38.88 683.90 39.95 683.81 40.84 683.90 41.64 684.39 42.88 685.06 43.60 686.14 44.22 687.39 44.57 688.13 44.57 688.22 44.75 687.22 45.46 685.81 46.00 684.23 46.26 683.23 46.26 683.73 49.46 684.39 49.46 686.39 49.11 687.55 48.75 688.88 48.13 690.05 47.33 691.13 46.17 691.96 44.66 700.93 44.66 702.76 44.40 703.76 44.13 704.51 43.77 704.76 43.77 705.92 44.31 707.41 44.66 709.33 44.75 710.16 44.57 711.32 43.95 711.99 43.06 712.32 42.00ZM708.25 39.24 709.16 40.13 709.41 40.75 709.41 41.11 708.99 41.64 708.74 41.73 707.41 41.64 707.33 41.55 707.58 41.28 707.91 40.57ZM687.72 38.53 688.22 38.53 688.80 39.06 689.21 40.22 689.30 40.75 689.21 41.46 687.88 41.37 687.14 40.93 686.97 40.48 687.05 39.51 687.30 38.97ZM705.09 36.93 705.42 37.19 705.67 37.64 705.75 38.62 705.59 39.42 705.34 39.95 704.76 40.48 704.26 39.95 703.92 38.97 703.92 37.99 704.09 37.46 704.51 37.02ZM524.83 34.79 524.25 33.64 523.50 32.75 522.34 32.04 521.59 31.86 520.51 31.86 519.51 32.12 518.51 32.75 517.77 33.55 517.02 34.97 516.77 36.04 516.77 37.55 517.18 38.79 518.02 39.68 518.93 40.13 520.43 40.31 521.67 39.95 521.84 40.04 521.67 40.57 521.26 40.93 520.76 41.19 519.26 41.46 513.94 41.55 513.86 41.46 512.20 41.37 510.95 41.02 510.04 40.48 509.37 39.51 509.29 38.44 509.71 36.30 506.88 35.59 506.46 36.84 506.13 38.53 506.05 40.39 506.21 41.28 506.80 42.53 507.63 43.42 508.79 44.13 510.79 44.75 512.95 45.02 516.69 45.02 516.77 44.93 519.18 44.84 521.76 44.31 522.84 43.86 523.75 43.24 524.25 42.71 524.91 41.37 525.33 39.24 525.33 37.02ZM520.51 34.79 520.92 34.70 521.34 34.88 521.59 35.15 522.00 36.30 522.09 36.93 522.00 37.19 521.51 37.37 520.59 37.37 520.09 37.02 519.84 36.21 519.93 35.59ZM732.68 30.70 732.10 30.97 731.76 31.32 731.60 31.68 731.60 32.66 732.10 33.46 732.60 33.73 733.26 33.73 733.84 33.46 734.18 33.10 734.42 32.48 734.42 31.95 734.18 31.32 733.84 30.97 733.26 30.70ZM729.11 30.70 728.52 30.97 728.11 31.50 728.03 32.66 728.52 33.46 729.11 33.73 729.77 33.73 730.27 33.46 730.60 33.10 730.85 32.48 730.85 31.95 730.60 31.32 730.27 30.97 729.69 30.70ZM629.21 28.83 628.63 29.10 628.21 29.63 628.13 30.79 628.46 31.41 628.80 31.68 629.71 31.86 630.38 31.59 630.71 31.24 630.96 30.61 630.96 29.99 630.79 29.55 630.38 29.10 629.79 28.83ZM625.64 28.83 624.97 29.19 624.56 29.90 624.56 30.70 624.72 31.15 625.22 31.68 625.72 31.86 626.22 31.86 626.80 31.59 627.13 31.24 627.38 30.70 627.38 29.99 627.22 29.55 626.80 29.10 626.22 28.83ZM467.90 28.92 467.32 29.46 467.15 29.81 467.07 30.35 467.15 30.88 467.40 31.32 467.99 31.77 468.24 31.86 469.07 31.77 469.48 31.50 469.90 30.88 469.98 30.52 469.90 29.81 469.73 29.46 469.07 28.92 468.82 28.83ZM464.66 28.83 464.08 29.10 463.75 29.46 463.58 29.81 463.58 30.79 463.83 31.32 464.25 31.68 464.74 31.86 465.24 31.86 466.07 31.32 466.32 30.88 466.41 30.17 466.16 29.46 465.82 29.10 465.24 28.83ZM839.89 28.48 840.30 44.57 843.71 44.57 843.29 28.48ZM836.15 28.48 835.56 28.75 835.32 29.01 835.07 29.55 835.07 30.35 835.56 31.24 836.15 31.50 836.73 31.50 837.31 31.24 837.64 30.88 837.89 30.35 837.89 29.63 837.73 29.19 837.31 28.75 836.73 28.48ZM832.57 28.48 831.91 28.83 831.66 29.19 831.49 29.63 831.49 30.35 831.82 31.06 832.16 31.32 832.57 31.50 833.24 31.50 833.74 31.24 834.24 30.61 834.32 29.63 834.15 29.19 833.65 28.66 833.24 28.48ZM797.34 28.48 797.83 41.55 798.08 42.53 798.42 43.24 798.91 43.77 799.91 44.31 801.82 44.66 812.05 44.57 813.62 44.31 815.70 43.68 818.03 42.53 818.94 41.91 819.53 42.97 820.11 43.60 820.77 44.04 821.94 44.48 823.10 44.66 831.41 44.66 833.65 44.40 835.23 43.77 836.40 42.71 836.98 41.55 837.23 40.22 837.14 37.90 836.89 36.39 836.15 33.64 834.57 33.99 832.99 34.53 833.82 37.90 833.90 39.86 833.74 40.31 833.32 40.75 832.74 41.02 831.41 41.19 823.76 41.19 821.85 40.93 821.10 40.48 821.94 40.04 822.60 39.95 822.18 36.75 820.85 36.75 820.27 36.57 817.36 35.15 815.45 34.53 814.21 34.35 812.54 34.35 810.72 34.61 810.72 35.33 811.13 38.35 811.63 38.17 812.88 38.17 812.96 38.08 815.37 38.17 816.53 38.35 818.20 38.79 818.28 38.88 817.53 39.42 816.53 39.95 814.54 40.66 811.88 41.11 810.38 41.11 810.30 41.19 802.57 41.19 802.16 41.11 801.41 40.48 801.16 39.51 800.66 28.48ZM777.56 28.48 776.97 28.75 776.64 29.10 776.48 29.46 776.48 30.43 776.97 31.24 777.47 31.50 778.14 31.50 778.72 31.24 779.05 30.88 779.30 30.26 779.30 29.72 779.05 29.10 778.72 28.75 778.14 28.48ZM773.98 28.48 773.40 28.75 772.99 29.28 772.90 30.43 773.40 31.24 773.98 31.50 774.56 31.50 775.15 31.24 775.48 30.88 775.73 30.26 775.73 29.72 775.48 29.10 775.15 28.75 774.56 28.48ZM677.75 28.48 678.16 44.57 681.49 44.57 681.07 28.48ZM658.63 28.48 658.05 28.75 657.80 29.01 657.55 29.55 657.55 30.35 658.05 31.24 658.63 31.50 659.21 31.50 659.79 31.24 660.13 30.88 660.38 30.35 660.38 29.63 660.21 29.19 659.79 28.75 659.21 28.48ZM655.06 28.48 654.39 28.83 654.14 29.19 653.98 29.63 653.98 30.35 654.31 31.06 654.64 31.32 655.06 31.50 655.72 31.50 656.22 31.24 656.72 30.61 656.80 29.63 656.64 29.19 656.14 28.66 655.72 28.48ZM609.76 28.48 610.26 41.46 610.51 42.53 610.93 43.33 611.76 44.04 612.67 44.40 614.25 44.66 623.81 44.66 625.64 44.40 627.30 43.86 627.63 43.86 629.05 44.31 631.79 44.66 640.35 44.66 641.59 44.40 642.43 43.95 643.26 43.06 644.09 44.04 644.75 44.40 646.08 44.66 653.89 44.66 656.14 44.40 657.72 43.77 658.88 42.71 659.21 42.17 659.63 40.84 659.71 38.70 659.55 37.28 658.63 33.64 658.38 33.64 655.47 34.53 655.97 36.30 656.39 38.44 656.39 39.86 656.22 40.31 655.81 40.75 655.22 41.02 653.89 41.19 646.41 41.19 645.50 40.93 645.09 40.39 644.84 39.24 644.50 28.48 641.10 28.48 641.43 39.95 641.26 40.57 640.85 41.02 640.02 41.19 633.45 41.19 633.37 41.11 631.04 41.19 630.96 40.93 631.46 40.04 631.71 39.15 631.79 38.26 631.62 37.02 631.29 36.21 630.29 34.97 629.21 34.26 628.38 33.99 626.88 33.99 625.80 34.35 624.64 35.15 623.89 36.04 623.48 36.84 623.23 37.90 623.23 38.70 623.48 39.86 624.14 41.02 623.64 41.19 615.00 41.19 614.59 41.11 613.92 40.57 613.59 39.33 613.17 28.66 613.09 28.48ZM627.72 37.10 628.30 37.64 628.55 38.62 628.46 39.06 628.13 39.68 627.38 40.31 626.88 39.77 626.55 39.15 626.47 38.26 626.72 37.64 627.05 37.28 627.38 37.10ZM535.80 28.48 536.30 41.55 536.55 42.53 536.88 43.24 537.38 43.77 538.13 44.22 540.29 44.66 549.43 44.66 551.67 44.40 553.42 43.95 555.00 43.33 556.91 42.26 558.99 40.75 560.40 40.04 561.06 39.95 560.65 36.75 559.32 36.75 558.74 36.57 555.83 35.15 553.92 34.53 552.67 34.35 551.01 34.35 549.18 34.61 549.18 35.33 549.60 38.35 550.09 38.17 551.34 38.17 551.42 38.08 553.83 38.17 555.00 38.35 556.66 38.79 556.74 38.88 556.00 39.42 555.00 39.95 553.00 40.66 550.34 41.11 548.85 41.11 548.76 41.19 541.04 41.19 540.62 41.11 539.87 40.48 539.62 39.51 539.12 28.48ZM497.65 28.48 497.07 28.75 496.74 29.10 496.57 29.46 496.57 30.43 497.07 31.24 497.57 31.50 498.24 31.50 498.82 31.24 499.15 30.88 499.40 30.26 499.40 29.72 499.15 29.10 498.82 28.75 498.24 28.48ZM494.08 28.48 493.50 28.75 493.08 29.28 493.00 30.43 493.50 31.24 494.08 31.50 494.66 31.50 495.24 31.24 495.58 30.88 495.83 30.26 495.83 29.72 495.58 29.10 495.24 28.75 494.66 28.48ZM448.79 28.48 449.20 40.75 449.37 42.00 449.70 42.97 450.37 43.77 451.12 44.22 452.03 44.48 453.28 44.66 462.83 44.66 464.66 44.40 466.57 43.86 468.07 44.31 470.73 44.66 479.37 44.66 480.78 44.31 481.53 43.86 482.28 43.15 482.86 43.86 483.53 44.31 485.02 44.66 492.92 44.66 495.08 44.40 496.74 43.77 497.32 43.33 497.99 42.53 498.40 41.73 498.57 41.11 498.74 39.77 498.65 37.99 498.15 35.41 497.57 33.64 494.50 34.44 495.41 38.62 495.33 40.04 495.16 40.39 494.66 40.84 493.83 41.11 492.92 41.11 492.83 41.19 485.44 41.19 484.52 40.93 484.03 40.22 483.86 39.42 483.53 28.57 483.44 28.48 480.12 28.48 480.45 39.77 480.29 40.57 479.87 41.02 478.96 41.19 472.47 41.19 472.39 41.11 469.98 41.19 469.90 41.02 470.40 40.22 470.73 38.97 470.73 37.46 470.23 36.13 469.48 35.15 468.82 34.61 467.99 34.17 467.32 33.99 465.82 33.99 464.99 34.26 463.75 35.06 463.08 35.77 462.42 37.02 462.25 37.73 462.25 38.97 462.58 40.13 463.17 41.02 462.67 41.19 454.02 41.19 453.61 41.11 452.86 40.48 452.61 39.51 452.11 28.48ZM466.74 37.10 467.32 37.64 467.49 37.99 467.49 38.97 467.24 39.51 466.41 40.31 465.58 39.24 465.49 38.17 465.74 37.64 466.16 37.19ZM605.53 26.97 605.19 26.88 603.70 26.97 602.95 27.32 602.45 27.95 602.29 28.48 602.29 29.55 602.53 30.17 603.03 30.70 602.12 30.97 602.45 32.39 604.03 32.12 606.52 31.32 606.11 29.81 605.36 30.17 604.61 30.26 604.20 29.99 603.78 29.46 603.70 29.01 603.78 28.75 604.28 28.30 605.44 28.39ZM444.55 26.97 442.97 26.88 442.22 27.14 441.56 27.77 441.31 28.39 441.31 29.63 441.56 30.17 442.06 30.70 441.14 30.97 441.47 32.39 441.89 32.39 443.64 31.95 445.55 31.24 445.13 29.81 444.05 30.26 443.64 30.26 442.89 29.63 442.72 29.19 442.80 28.75 443.30 28.30 444.05 28.39 444.47 28.30ZM747.64 26.52 746.97 26.79 746.56 27.23 746.31 27.77 746.31 28.75 746.56 29.28 746.97 29.72 747.56 29.99 748.22 29.99 749.05 29.46 749.38 28.83 749.47 28.12 749.22 27.32 748.72 26.79 748.14 26.52ZM520.59 26.34 520.01 26.61 519.59 27.06 519.35 27.59 519.35 28.57 519.51 29.01 520.01 29.55 520.59 29.81 521.26 29.81 521.92 29.46 522.25 29.01 522.50 28.21 522.42 27.50 522.25 27.14 521.51 26.43Z" stroke="#0d6b30" stroke-width="0.8" stroke-linejoin="round"/>
<path fill="#151515" d="M66.23 108.76 66.23 110.42 72.21 110.42 72.21 108.76ZM214.96 104.86 213.04 104.86 212.92 104.98 209.99 115.15 209.42 113.73 206.94 104.86 204.90 104.86 208.63 116.69 209.31 116.81 208.74 118.23 207.73 119.29 207.16 119.65 205.70 120.00 205.92 121.54 206.94 121.42 208.18 120.95 209.20 120.24 210.33 118.82 211.12 117.04ZM174.07 104.86 176.67 116.69 179.27 116.69 181.30 106.75 181.53 106.99 183.34 116.69 186.05 116.69 188.53 104.86 186.72 104.86 184.69 115.27 184.35 114.32 183.79 111.01 182.43 104.86 180.29 104.86 178.93 111.60 178.03 115.27 177.80 114.68 175.99 104.98 175.88 104.86ZM110.72 104.86 108.80 104.86 108.69 104.98 105.75 115.15 105.19 113.73 102.70 104.86 100.67 104.86 104.40 116.69 105.07 116.81 104.51 118.23 103.49 119.29 102.93 119.65 101.46 120.00 101.69 121.54 102.70 121.42 103.95 120.95 104.96 120.24 106.09 118.82 106.88 117.04ZM74.13 104.86 76.73 116.69 79.21 116.69 79.33 116.57 81.02 107.82 81.36 106.75 81.81 108.29 83.39 116.69 85.99 116.69 86.10 116.57 88.59 104.86 86.78 104.86 84.97 114.44 84.75 115.03 84.52 114.91 82.60 105.09 82.49 104.86 80.34 104.86 78.08 115.27 77.86 114.80 77.63 113.14 77.41 112.55 75.94 104.86ZM130.71 104.74 130.60 104.86 130.60 116.69 132.52 116.69 132.52 104.74ZM246.69 104.74 246.69 116.69 248.50 116.69 248.50 108.29 249.06 107.34 249.96 106.40 250.75 106.04 252.00 106.16 252.45 106.51 252.90 107.46 252.90 116.69 254.82 116.69 254.82 108.17 256.29 106.40 257.08 106.04 258.32 106.16 258.88 106.75 259.22 107.70 259.22 116.69 261.14 116.69 261.14 107.82 260.80 106.28 259.79 104.98 258.66 104.50 257.08 104.62 256.06 105.09 255.27 105.80 254.71 106.63 254.37 105.92 253.69 105.09 252.34 104.50 251.21 104.50 250.42 104.74 249.62 105.21 248.50 106.51 248.27 104.74ZM237.54 104.62 236.07 105.33 235.28 106.16 234.72 107.11 234.04 109.59 234.15 112.78 234.83 114.68 236.41 116.33 238.11 116.93 240.36 116.81 241.38 116.45 242.85 115.51 242.17 114.32 240.93 115.03 240.14 115.27 239.12 115.39 237.99 115.15 237.43 114.80 236.52 113.73 236.07 112.31 236.07 111.48 236.19 111.36 243.30 111.36 243.19 108.29 242.51 106.51 241.15 105.09 240.48 104.74 239.46 104.50ZM236.64 107.22 237.43 106.40 238.22 106.04 239.69 106.16 240.14 106.40 241.15 107.58 241.49 108.88 241.49 109.83 241.38 109.95 236.19 109.95 236.07 108.88ZM219.59 104.50 218.23 104.86 216.88 105.80 216.20 107.22 216.31 108.76 216.65 109.47 217.67 110.42 218.34 110.77 221.05 111.60 221.62 111.96 222.30 112.67 222.41 113.02 222.30 114.20 221.62 114.91 220.38 115.39 218.34 115.15 217.33 114.68 216.76 114.20 215.75 115.39 216.76 116.22 217.89 116.69 219.13 116.93 220.94 116.93 222.18 116.57 223.09 116.10 223.88 115.27 224.33 114.20 224.44 113.49 224.33 112.43 223.99 111.60 223.09 110.65 221.96 110.06 219.02 109.12 218.23 108.29 218.12 107.82 218.23 107.11 218.79 106.40 219.81 106.04 221.05 106.04 223.31 106.99 224.10 105.80 222.18 104.74 221.05 104.50ZM199.26 104.50 197.45 105.09 196.43 106.04 195.98 106.99 195.98 108.53 196.55 109.71 197.23 110.30 198.35 110.89 199.82 111.25 201.40 111.96 202.08 112.78 202.19 113.49 202.08 114.09 201.40 114.91 200.16 115.39 198.13 115.15 196.43 114.20 195.42 115.39 196.10 115.98 198.02 116.81 200.61 116.93 202.19 116.45 203.44 115.51 204.11 114.09 204.00 112.19 203.66 111.48 202.42 110.42 198.58 109.00 198.02 108.41 197.90 107.22 198.58 106.40 199.48 106.04 201.18 106.16 202.98 107.11 203.78 105.80 202.98 105.21 201.86 104.74 200.73 104.50ZM166.40 104.50 164.48 105.21 163.46 106.16 163.01 106.87 162.44 108.17 162.22 109.24 162.22 110.54 162.10 110.65 162.22 112.31 162.89 114.44 164.14 115.98 165.83 116.81 167.86 116.93 169.44 116.45 170.35 115.86 170.91 115.27 171.93 113.26 172.15 112.19 172.27 110.06 171.82 107.70 171.36 106.75 170.57 105.69 169.11 104.74 168.09 104.50ZM166.62 106.04 167.86 106.04 168.43 106.28 169.56 107.34 170.01 108.53 170.24 110.18 170.01 112.90 169.44 114.20 168.77 114.91 167.41 115.39 166.28 115.27 165.49 114.80 164.59 113.61 164.25 112.19 164.14 110.54 164.59 107.82 165.61 106.51ZM142.68 104.62 141.10 104.50 140.08 104.98 139.29 105.80 138.61 107.11 138.39 104.74 136.81 104.74 136.81 116.69 138.61 116.69 138.61 109.95 138.95 108.64 139.63 107.34 140.42 106.63 141.21 106.40 142.45 106.51ZM118.63 105.21 119.08 106.63 121.34 106.04 122.80 106.04 123.82 106.51 124.50 107.58 124.50 109.35 124.39 109.47 121.68 109.47 119.87 109.95 119.08 110.42 118.17 111.48 117.72 113.26 117.95 114.80 118.40 115.62 118.85 116.10 119.87 116.69 120.66 116.93 122.01 116.93 123.60 116.33 124.72 115.15 125.06 115.86 125.63 116.45 126.31 116.81 126.98 116.93 127.32 115.51 126.53 114.80 126.42 114.32 126.42 107.46 125.85 105.92 124.84 104.98 123.60 104.50 121.22 104.50ZM124.39 110.77 124.50 110.89 124.50 113.73 123.37 115.03 122.69 115.39 121.56 115.51 120.55 115.15 120.09 114.68 119.76 113.73 119.76 112.78 120.32 111.60 121.22 111.01 122.01 110.77ZM90.73 105.21 91.18 106.63 93.44 106.04 94.91 106.04 95.81 106.40 96.61 107.46 96.72 109.35 96.61 109.47 93.78 109.47 91.75 110.06 91.07 110.54 90.51 111.13 89.94 112.55 89.94 114.20 90.39 115.39 90.85 115.98 91.97 116.69 92.77 116.93 94.12 116.93 95.59 116.45 96.83 115.15 97.73 116.45 99.09 116.93 99.54 115.62 98.75 114.91 98.52 114.09 98.52 107.34 98.07 106.04 97.17 105.09 95.70 104.50 93.33 104.50ZM96.61 110.77 96.72 110.89 96.72 113.49 96.49 113.97 95.48 115.03 94.80 115.39 93.78 115.51 93.10 115.39 92.31 114.80 91.97 114.09 91.86 113.26 92.20 111.96 92.88 111.25 94.12 110.77ZM227.49 102.02 227.49 104.62 227.38 104.74 225.46 104.74 225.46 106.28 227.38 106.28 227.49 106.40 227.49 114.56 228.06 115.86 229.07 116.69 229.86 116.93 231.10 116.93 232.01 116.69 232.91 116.22 232.23 114.80 231.33 115.27 230.20 115.27 229.52 114.68 229.30 113.85 229.30 106.40 229.41 106.28 231.78 106.28 232.01 104.74 229.41 104.74 229.30 104.62 229.30 101.78ZM58.55 101.31 54.26 111.25 54.26 112.90 60.35 112.90 60.47 113.02 60.47 116.69 62.27 116.69 62.27 113.02 62.39 112.90 64.08 112.90 64.08 111.36 62.39 111.36 62.27 111.25 62.27 107.22 60.58 107.22 60.58 109.35 60.35 111.36 56.40 111.36 56.29 111.25 60.13 102.02ZM156.68 99.89 156.68 115.15 156.91 115.86 157.70 116.69 158.38 116.93 159.51 116.93 160.41 116.57 160.41 116.22 159.96 115.15 158.94 115.27 158.49 114.68 158.49 99.65ZM155.44 100.01 154.09 99.65 152.51 99.65 150.92 100.24 150.25 100.95 149.68 102.37 149.68 104.62 149.57 104.74 147.65 104.74 147.65 106.28 149.57 106.28 149.68 106.40 149.68 116.69 151.60 116.69 151.60 106.40 151.71 106.28 154.09 106.28 154.20 106.04 154.31 104.74 151.71 104.74 151.60 104.62 151.71 102.02 152.28 101.43 152.96 101.19 153.75 101.19 155.33 101.66 155.89 100.24ZM130.71 99.30 130.26 100.01 130.26 100.83 130.48 101.31 131.16 101.78 132.29 101.66 132.74 101.19 132.97 100.48 132.74 99.65 131.95 99.06 131.16 99.06Z" stroke="#151515" stroke-width="0.15" stroke-linejoin="round"/>
<path fill="#151515" d="M111.55 148.38 111.17 148.76 111.07 149.13 111.17 149.60 111.65 150.07 112.42 150.07 112.91 149.60 113.00 149.23 112.91 148.85 112.62 148.48 112.23 148.29ZM109.14 148.38 108.65 148.94 108.65 149.51 109.23 150.07 110.10 149.98 110.49 149.51 110.49 148.94 110.30 148.57 109.81 148.29ZM140.56 147.73 140.27 147.82 139.88 148.19 139.78 149.04 140.27 149.60 140.94 149.69 141.62 149.32 141.72 148.38 141.23 147.82ZM72.98 147.63 72.40 148.10 72.30 148.94 72.50 149.32 72.79 149.51 73.46 149.60 74.04 149.32 74.24 149.04 74.24 148.29 73.75 147.73ZM91.83 147.07 90.87 147.07 90.29 147.35 90.09 147.63 90.00 148.57 90.48 149.13 89.90 149.32 90.09 150.07 91.45 149.79 92.41 149.41 92.22 148.66 91.45 148.94 90.87 148.48 90.87 148.10 91.16 147.82 91.74 147.91 91.83 147.82 91.93 147.16ZM147.52 141.16 145.68 142.00 146.55 143.97 146.65 144.54 146.55 145.29 146.16 146.04 145.58 146.60 143.26 147.73 143.94 149.51 145.10 149.13 147.03 148.01 147.90 147.07 148.39 146.13 148.68 144.63 148.58 143.69 148.00 142.00ZM228.92 140.50 228.15 140.32 227.18 140.32 226.41 140.50 225.73 140.88 224.86 141.72 224.47 142.47 226.12 143.22 226.99 142.38 227.28 142.29 228.05 142.38 228.73 143.13 228.82 143.97 228.73 144.07 226.89 143.97 226.12 144.16 225.24 144.54 224.47 145.19 223.99 146.04 223.79 146.69 223.79 148.19 224.18 150.07 226.12 149.60 225.83 148.10 225.83 147.26 226.12 146.51 226.70 146.04 227.18 145.85 229.02 145.85 230.18 146.13 230.56 146.04 230.95 144.72 230.85 142.85 230.18 141.44 229.69 140.97ZM158.15 140.50 156.99 140.32 155.83 140.41 154.77 140.97 154.19 141.72 153.99 142.29 153.99 143.41 154.28 144.07 154.96 144.72 154.77 144.91 153.32 145.29 153.99 147.16 159.41 145.38 159.41 145.10 158.73 143.51 156.90 144.16 156.51 143.97 156.02 143.41 156.02 142.85 156.31 142.38 156.70 142.19 157.86 142.29ZM129.34 145.01 128.76 143.32 128.47 143.32 127.99 143.60 126.35 144.07 125.77 143.79 125.19 143.04 125.09 142.66 125.19 142.29 125.67 141.72 126.15 141.54 127.70 141.63 127.99 139.85 127.31 139.66 125.19 139.75 124.32 140.13 123.54 140.79 123.06 141.82 123.06 143.04 123.45 143.88 123.83 144.35 123.45 144.54 117.16 144.54 115.61 143.88 112.71 142.00 111.84 143.69 113.20 144.44 113.49 144.72 113.39 145.10 112.81 145.47 111.75 145.66 109.43 145.57 108.56 145.19 108.17 144.82 107.78 144.07 107.88 142.94 108.27 141.82 106.53 141.25 106.24 141.63 105.75 143.32 105.75 145.01 106.33 146.22 106.82 146.69 108.07 147.35 109.43 147.63 111.65 147.63 112.71 147.44 114.16 146.88 115.32 145.76 116.29 146.32 116.97 146.51 123.54 146.51 123.64 146.41 124.70 146.41 127.02 145.94 128.18 145.57ZM217.12 139.29 215.29 140.41 216.64 142.57 216.93 143.41 216.83 143.97 216.54 144.26 216.06 144.44 215.00 144.44 213.74 143.97 212.97 145.85 214.51 146.41 216.54 146.51 217.90 146.13 218.48 145.76 218.86 145.29 219.15 144.72 219.25 144.16 219.06 142.85 218.19 140.88ZM55.97 138.91 54.61 140.50 55.19 140.97 54.42 141.72 53.74 142.85 53.55 143.51 53.55 144.63 53.84 145.38 54.52 146.04 55.87 146.51 57.22 146.51 58.38 146.04 58.96 145.47 59.45 144.54 59.54 143.32 59.35 142.47 58.58 141.16 56.93 139.57ZM56.55 141.91 57.22 142.57 57.61 143.32 57.51 144.16 57.22 144.44 56.64 144.63 55.87 144.44 55.48 143.97 55.58 143.04ZM184.25 143.69 183.77 142.85 182.32 141.44 178.55 138.72 177.49 140.13 178.07 140.69 177.29 141.25 176.81 142.29 176.81 143.32 177.00 143.97 177.29 144.35 177.20 144.54 170.62 144.54 170.43 144.26 170.43 143.60 170.24 142.94 169.66 141.91 169.17 141.44 168.50 141.07 167.05 140.97 165.89 141.63 165.40 142.19 164.92 143.13 164.73 144.63 165.02 145.47 165.60 146.04 166.47 146.41 167.82 146.60 167.34 146.98 166.08 147.44 164.44 147.63 164.73 149.51 165.60 149.51 166.56 149.32 168.11 148.76 169.37 147.82 170.24 146.51 176.91 146.51 177.97 146.32 178.94 145.94 180.97 146.51 182.80 146.41 183.58 146.04 184.16 145.38 184.35 144.72ZM181.55 143.04 182.03 143.41 182.42 143.97 182.42 144.35 182.03 144.72 181.06 144.72 180.97 144.63 181.35 143.88ZM167.34 142.85 167.72 142.85 168.11 143.13 168.50 144.07 168.40 144.63 168.01 144.72 167.24 144.63 166.76 144.26 166.76 143.60ZM179.03 141.72 179.42 141.72 179.81 142.10 179.90 142.38 179.81 143.22 179.23 143.97 178.84 143.60 178.55 142.85 178.65 142.10ZM211.52 140.69 210.84 139.47 210.45 139.10 209.68 138.72 208.81 138.63 208.23 138.72 207.36 139.10 206.78 139.66 206.30 140.41 206.01 141.35 206.10 142.76 206.30 143.13 207.17 143.79 207.94 143.97 208.91 143.88 209.39 143.97 208.81 144.44 207.46 144.63 199.92 144.54 199.43 142.66 198.47 141.54 197.60 141.16 196.34 141.25 195.47 141.63 194.60 142.57 194.12 143.69 194.12 144.82 194.60 145.66 195.08 146.04 196.15 146.41 197.50 146.60 196.73 147.44 195.76 147.91 194.89 148.10 193.15 148.10 192.18 147.82 191.31 147.07 191.12 146.51 191.12 145.85 191.60 144.35 189.76 143.69 189.09 145.76 189.18 147.82 189.67 148.66 190.25 149.23 191.12 149.69 192.76 150.07 194.60 150.07 196.15 149.79 197.69 149.13 198.95 147.91 199.63 146.51 208.04 146.51 209.20 146.32 210.45 145.76 211.13 145.10 211.52 144.35 211.71 143.60 211.71 141.54ZM209.29 143.88 209.39 143.79 209.49 143.88 209.39 143.97ZM196.53 143.04 197.21 142.94 197.50 143.22 197.79 143.97 197.69 144.63 196.82 144.63 196.53 144.54 196.15 144.16 196.15 143.60ZM208.42 140.50 209.00 140.41 209.49 140.88 209.68 141.44 209.58 142.10 208.52 142.19 208.04 141.82 207.94 141.54 208.04 140.97ZM198.08 137.97 197.60 138.25 197.40 138.63 197.40 139.19 197.98 139.75 198.66 139.75 199.14 139.38 199.24 138.63 198.95 138.16 198.56 137.97ZM195.66 137.97 195.08 138.35 194.99 139.19 195.47 139.75 196.24 139.75 196.63 139.47 196.82 139.10 196.73 138.44 196.34 138.07ZM247.09 137.13 246.61 137.69 246.61 138.44 247.19 139.00 248.06 139.00 248.54 138.54 248.64 138.25 248.54 137.60 248.25 137.22 247.87 137.03ZM87.00 136.75 86.51 137.03 86.32 137.41 86.32 137.97 86.90 138.54 87.58 138.54 88.16 137.97 88.16 137.41 87.67 136.85ZM84.58 136.75 84.00 137.13 83.81 137.69 83.90 138.07 84.39 138.54 85.16 138.54 85.64 138.07 85.74 137.60 85.55 137.13 85.26 136.85ZM257.82 136.57 257.15 137.22 257.15 137.97 257.63 138.54 258.60 138.54 259.08 138.07 259.18 137.79 259.08 137.13 258.40 136.57ZM95.80 136.57 93.77 136.85 94.06 138.16 94.06 139.85 93.86 140.32 90.29 138.07 90.09 138.16 89.22 139.57 89.32 139.75 91.83 141.25 92.90 142.10 91.45 143.51 90.19 144.35 90.19 146.41 95.12 146.41 95.89 146.13 96.57 145.47 96.76 145.01 96.67 143.51 96.09 142.47 95.41 141.72 95.80 140.97 96.09 139.38 95.99 137.41ZM94.83 143.88 94.83 144.26 94.54 144.54 94.15 144.63 92.70 144.63 92.61 144.54 94.25 143.22ZM232.50 136.47 232.79 144.54 233.08 145.47 233.66 146.04 234.53 146.41 235.30 146.51 245.55 146.51 247.19 146.32 248.64 145.85 249.41 146.22 250.67 146.51 256.86 146.51 258.31 146.22 259.08 145.76 259.47 145.29 259.85 144.44 259.95 143.88 259.85 142.19 259.18 139.85 257.24 140.32 257.92 143.32 257.82 143.88 257.44 144.35 256.86 144.54 250.77 144.54 250.38 144.35 250.57 143.79 250.48 142.00 249.99 141.16 248.93 140.41 248.16 140.22 246.71 140.32 244.87 141.07 244.29 141.54 244.10 140.13 244.00 136.47 241.97 136.47 242.16 143.60 241.49 144.54 235.78 144.54 235.30 144.35 235.01 144.07 234.82 143.32 234.53 136.47ZM248.54 142.94 248.45 143.60 248.06 143.97 247.48 144.26 245.74 144.54 244.10 144.54 244.00 144.44 245.06 143.32 246.51 142.38 247.67 142.19 247.96 142.29ZM160.86 136.47 161.05 146.32 161.15 146.41 163.18 146.41 162.89 136.47ZM130.89 136.47 131.18 144.72 131.47 145.47 131.86 145.94 132.92 146.41 133.69 146.51 139.88 146.51 141.23 146.22 142.30 145.47 142.68 144.82 142.88 144.16 142.88 142.76 142.49 140.88 142.10 139.85 140.17 140.32 140.85 143.04 140.75 143.97 140.36 144.35 139.78 144.54 134.18 144.54 133.79 144.44 133.40 144.07 133.21 143.51 132.92 136.47ZM98.50 136.47 98.79 146.41 100.82 146.41 100.63 136.66 100.53 136.47ZM60.99 136.47 61.38 144.82 61.77 145.66 62.15 146.04 62.73 146.32 63.89 146.51 71.34 146.41 73.46 145.85 75.40 144.91 76.17 145.85 77.43 146.41 78.01 146.51 84.39 146.51 85.84 146.22 86.61 145.85 87.19 145.29 87.58 144.44 87.67 143.97 87.58 142.10 87.00 140.04 86.80 139.85 84.97 140.32 85.45 142.00 85.64 143.51 85.26 144.26 84.48 144.54 78.20 144.54 77.23 144.35 76.94 144.07 77.04 143.97 77.91 143.79 77.72 141.91 76.85 141.91 74.04 140.69 72.50 140.32 71.05 140.32 70.08 140.50 70.37 142.47 70.85 142.38 73.46 142.47 75.11 143.04 74.62 143.41 73.08 144.07 70.47 144.54 64.28 144.54 63.99 144.44 63.51 143.97 63.41 143.60 63.12 136.47ZM208.42 135.35 208.04 135.63 207.84 136.00 207.84 136.66 208.33 137.22 209.10 137.32 209.68 136.94 209.87 136.57 209.78 135.82 209.29 135.35Z" stroke="#151515" stroke-width="0.5" stroke-linejoin="round"/>
<path fill="#151515" d="M550.71 220.53 550.71 221.88 555.82 221.88 555.82 220.53ZM588.84 217.10 587.21 217.10 587.10 217.22 584.89 225.31 584.54 225.92 581.98 217.22 581.87 217.10 580.24 217.10 583.38 227.15 584.07 227.40 583.73 228.25 583.03 229.23 582.10 229.85 580.94 230.21 581.17 231.44 582.45 231.19 583.26 230.83 584.54 229.60 585.01 228.87 585.59 227.52ZM557.45 217.10 559.66 227.27 561.87 227.27 563.50 219.06 563.73 218.82 565.47 227.27 567.68 227.27 569.89 217.10 568.38 217.10 566.87 224.94 566.52 226.05 564.66 217.10 562.80 217.10 561.05 225.56 560.82 226.05 559.66 220.66 559.08 217.10ZM571.87 217.47 571.75 217.71 572.10 218.70 574.08 218.20 575.35 218.20 576.17 218.57 576.75 219.31 576.87 221.02 576.75 221.15 573.73 221.27 572.91 221.51 572.10 222.00 571.29 222.98 571.05 223.72 571.05 225.19 571.40 226.17 571.75 226.66 572.68 227.27 573.49 227.52 574.77 227.52 576.05 227.03 576.98 226.05 577.80 227.15 578.84 227.52 579.19 226.29 578.61 225.80 578.38 224.82 578.38 219.31 577.91 218.08 576.98 217.22 575.82 216.86 574.19 216.86ZM576.75 222.25 576.87 222.37 576.87 224.58 576.63 225.07 575.82 225.92 575.01 226.29 574.08 226.29 573.61 226.17 573.03 225.68 572.80 225.19 572.68 224.21 572.91 223.35 573.61 222.62 574.54 222.25ZM544.08 214.16 540.36 222.86 540.36 223.96 540.47 224.09 545.59 224.09 545.71 224.21 545.71 227.27 547.22 227.27 547.22 224.21 547.33 224.09 548.85 224.09 548.85 222.74 547.33 222.74 547.22 222.62 547.22 219.19 545.94 219.19 545.82 222.13 545.59 222.74 542.22 222.74 542.10 222.62 545.47 214.77Z" stroke="#151515" stroke-width="0.05" stroke-linejoin="round"/>
<path fill="#151515" d="M638.95 228.33 638.43 228.87 638.33 229.53 638.54 230.07 638.84 230.33 639.36 230.33 639.67 230.07 639.87 229.27 639.46 228.47ZM613.14 222.87 612.63 220.33 611.19 220.87 611.60 222.73 611.60 223.93 611.09 224.60 609.34 225.13 605.95 225.13 604.92 224.87 604.10 224.07 603.89 223.40 604.10 221.53 602.76 221.13 602.45 222.73 602.45 224.60 602.66 225.27 603.38 226.20 604.61 226.87 605.64 227.13 609.85 227.00 611.60 226.47 612.53 225.80 612.94 225.13 613.14 224.33ZM608.52 218.33 608.00 219.00 608.00 219.53 608.41 220.20 608.83 220.33 609.44 219.80 609.44 218.87 609.03 218.33ZM606.56 218.33 606.15 218.73 606.05 219.67 606.26 220.07 606.87 220.33 607.39 219.93 607.49 219.00 607.18 218.47ZM650.05 216.60 649.64 216.87 649.43 217.27 649.43 217.93 649.74 218.47 650.36 218.60 650.77 218.20 650.87 217.27 650.67 216.87ZM648.10 216.60 647.58 217.00 647.38 217.67 647.48 218.07 647.89 218.60 648.41 218.60 648.71 218.33 648.92 217.53 648.51 216.73ZM651.90 216.07 652.11 226.87 653.65 226.87 653.44 216.07ZM629.18 216.07 629.49 225.13 629.69 225.93 630.21 226.60 631.44 227.00 636.69 227.00 637.61 226.87 639.05 226.33 640.59 225.27 641.41 226.47 642.65 227.00 647.89 227.00 649.02 226.73 649.64 226.33 650.26 225.40 650.46 224.33 650.46 223.27 649.84 219.93 648.41 220.47 648.92 223.13 648.92 224.20 648.51 224.87 648.20 225.00 642.55 225.00 642.24 224.87 641.93 224.47 642.34 224.20 642.75 224.20 642.55 222.33 641.83 222.33 639.87 221.13 638.54 220.60 636.58 220.73 636.48 221.00 636.69 222.73 638.74 222.60 640.28 223.27 640.39 223.53 639.36 224.33 637.30 225.00 631.55 225.00 631.13 224.60 630.93 223.53 630.72 216.07ZM614.48 216.07 614.79 225.13 614.99 225.93 615.51 226.60 616.74 227.00 621.88 227.00 623.73 226.33 625.17 227.00 626.41 227.00 627.23 226.60 627.84 225.80 627.95 224.07 627.33 222.73 625.89 221.00 623.53 218.73 623.22 219.00 622.60 220.20 623.01 220.60 622.29 221.40 621.98 222.20 621.98 223.80 622.40 224.87 622.29 225.00 616.84 225.00 616.64 224.87 616.33 224.33 616.23 223.53 616.02 216.07ZM625.79 223.13 626.30 223.80 626.51 224.73 626.20 225.13 625.27 225.13 625.17 225.00 625.48 224.47ZM624.04 221.80 624.45 222.47 624.45 223.13 624.25 223.80 623.83 224.33 623.32 223.40 623.32 222.47 623.73 221.80Z" stroke="#151515" stroke-width="0.15" stroke-linejoin="round"/>
<path fill="#151515" d="M663.84 215.67 662.18 216.62 661.08 218.11 660.86 219.20 661.08 220.29 661.96 221.24 660.97 222.73 660.86 224.50 661.52 225.59 662.84 226.13 664.50 226.13 666.04 225.45 665.60 223.82 664.39 224.23 663.17 224.23 662.62 223.96 662.40 223.55 662.51 223.01 663.17 222.19 664.17 221.51 663.95 219.88 662.84 219.88 662.40 219.34 662.84 218.39 664.28 217.43Z" stroke="#151515" stroke-width="0.15" stroke-linejoin="round"/>
<path fill="#151515" d="M740.80 220.53 740.80 221.88 746.00 221.88 746.00 220.53ZM778.84 217.10 777.22 217.10 777.11 217.22 775.03 224.82 774.56 225.92 774.33 225.56 771.90 217.10 770.29 217.10 773.41 227.15 773.99 227.40 773.52 228.62 772.71 229.48 772.14 229.85 770.98 230.09 771.10 231.44 772.02 231.32 773.41 230.70 774.45 229.72 775.49 227.76ZM747.62 217.10 749.82 227.27 752.02 227.27 753.75 218.82 753.98 219.06 755.49 227.27 757.80 227.27 760.00 217.10 758.49 217.10 758.38 217.22 756.64 226.05 756.18 224.45 754.79 217.10 752.94 217.10 751.55 223.84 750.98 226.05 750.75 225.56 749.13 217.10ZM761.85 217.47 762.19 218.70 764.04 218.20 765.31 218.20 766.24 218.57 766.82 219.55 766.82 221.02 766.70 221.15 763.70 221.27 762.65 221.64 761.85 222.25 761.27 223.11 761.04 224.21 761.15 225.43 761.61 226.41 762.08 226.90 763.00 227.40 764.85 227.52 766.24 226.90 767.05 226.05 767.63 227.03 768.90 227.52 769.25 226.29 768.90 226.17 768.44 225.43 768.44 219.55 768.20 218.70 767.74 217.84 766.70 217.10 765.78 216.86 764.16 216.86ZM766.70 222.25 766.82 222.37 766.82 224.70 766.12 225.68 764.97 226.29 764.04 226.29 763.46 226.05 763.00 225.56 762.77 225.07 762.77 223.84 763.46 222.74 764.62 222.25ZM734.10 214.16 732.48 214.65 731.55 215.26 731.20 215.75 732.01 216.61 733.40 215.63 735.14 215.51 735.71 215.75 736.41 216.49 736.64 217.10 736.64 217.96 736.41 218.70 735.95 219.31 735.14 219.80 733.75 219.92 733.52 221.15 735.14 221.15 736.06 221.51 736.75 222.25 736.99 223.35 736.87 224.45 736.06 225.68 735.02 226.17 733.75 226.17 733.05 225.92 731.78 224.94 730.86 225.92 731.44 226.54 732.71 227.27 733.75 227.52 735.14 227.52 736.41 227.15 737.22 226.66 737.91 225.92 738.49 224.70 738.60 222.86 738.26 221.88 737.80 221.27 737.10 220.78 735.95 220.41 737.10 219.80 737.91 218.94 738.14 218.33 738.26 217.22 738.14 216.49 737.22 215.02 735.83 214.28Z" stroke="#151515" stroke-width="0.05" stroke-linejoin="round"/>
<path fill="#151515" d="M825.42 228.16 824.90 228.69 824.80 229.35 825.01 229.87 825.32 230.13 825.83 230.13 826.14 229.87 826.35 229.08 825.93 228.29ZM799.56 222.77 799.05 220.27 797.61 220.80 798.02 222.64 798.02 223.82 797.50 224.48 795.75 225.01 792.35 225.01 791.32 224.74 790.50 223.95 790.29 223.30 790.50 221.46 789.16 221.06 788.85 222.64 788.85 224.48 789.06 225.14 789.78 226.06 791.01 226.72 792.04 226.98 796.27 226.85 798.02 226.32 798.95 225.66 799.36 225.01 799.56 224.22ZM794.93 218.30 794.41 218.96 794.41 219.48 794.83 220.14 795.24 220.27 795.86 219.75 795.86 218.83 795.44 218.30ZM792.97 218.30 792.56 218.70 792.46 219.62 792.66 220.01 793.28 220.27 793.80 219.88 793.90 218.96 793.59 218.43ZM836.54 216.59 836.13 216.85 835.93 217.25 835.93 217.91 836.23 218.43 836.85 218.56 837.26 218.17 837.37 217.25 837.16 216.85ZM834.59 216.59 834.07 216.99 833.87 217.64 833.97 218.04 834.38 218.56 834.90 218.56 835.20 218.30 835.41 217.51 835.00 216.72ZM838.40 216.07 838.60 226.72 840.15 226.72 839.94 216.07ZM815.63 216.07 815.94 225.01 816.15 225.80 816.66 226.45 817.90 226.85 823.15 226.85 824.08 226.72 825.52 226.19 827.07 225.14 827.89 226.32 829.13 226.85 834.38 226.85 835.51 226.58 836.13 226.19 836.75 225.27 836.96 224.22 836.96 223.17 836.34 219.88 834.90 220.40 835.41 223.03 835.41 224.09 835.00 224.74 834.69 224.88 829.02 224.88 828.71 224.74 828.41 224.35 828.82 224.09 829.23 224.09 829.02 222.25 828.30 222.25 826.35 221.06 825.01 220.54 823.05 220.67 822.95 220.93 823.15 222.64 825.21 222.51 826.76 223.17 826.86 223.43 825.83 224.22 823.77 224.88 818.00 224.88 817.59 224.48 817.38 223.43 817.18 216.07ZM800.90 216.07 801.21 225.01 801.42 225.80 801.93 226.45 803.17 226.85 808.32 226.85 810.17 226.19 811.62 226.85 812.85 226.85 813.68 226.45 814.29 225.66 814.40 223.95 813.78 222.64 812.34 220.93 809.97 218.70 809.66 218.96 809.04 220.14 809.45 220.54 808.73 221.32 808.42 222.11 808.42 223.69 808.83 224.74 808.73 224.88 803.27 224.88 803.07 224.74 802.76 224.22 802.65 223.43 802.45 216.07ZM812.23 223.03 812.75 223.69 812.95 224.61 812.65 225.01 811.72 225.01 811.62 224.88 811.92 224.35ZM810.48 221.72 810.89 222.38 810.89 223.03 810.69 223.69 810.28 224.22 809.76 223.30 809.76 222.38 810.17 221.72Z" stroke="#151515" stroke-width="0.15" stroke-linejoin="round"/>
<path fill="#151515" d="M853.94 216.05 852.83 216.37 852.93 217.42 852.72 217.74 852.32 217.74 852.11 217.53 852.22 216.68 852.11 216.58 851.10 216.47 850.90 217.42 850.59 217.74 850.29 217.74 849.98 217.32 849.68 216.05 848.15 216.47 848.35 217.00 848.96 220.68 849.17 223.95 850.59 223.95 850.59 221.84 850.29 219.32 851.20 219.11 851.50 218.79 852.52 219.21 853.33 219.11 853.84 218.79 854.25 218.05 854.25 217.00Z" stroke="#151515" stroke-width="0.15" stroke-linejoin="round"/>
<path fill="#151515" d="M740.34 358.91 740.34 360.36 745.50 360.36 745.50 358.91ZM778.84 355.23 777.20 355.23 777.08 355.36 774.85 364.05 774.50 364.71 771.92 355.36 771.80 355.23 770.15 355.23 773.32 366.02 774.03 366.29 773.68 367.21 772.97 368.26 772.03 368.92 770.86 369.32 771.09 370.63 772.38 370.37 773.21 369.98 774.50 368.66 774.97 367.87 775.55 366.42ZM747.15 355.23 749.49 366.16 751.61 366.16 753.02 358.65 753.48 356.94 755.25 366.16 757.48 366.16 759.71 355.23 758.18 355.23 756.54 364.44 756.30 364.71 754.42 355.23 752.55 355.23 750.90 363.92 750.55 364.71 748.79 355.23ZM761.70 355.62 761.58 355.88 761.94 356.94 763.93 356.41 765.22 356.41 766.05 356.81 766.63 357.60 766.75 359.44 766.63 359.57 763.58 359.70 762.76 359.97 761.94 360.49 761.12 361.55 760.88 362.34 760.88 363.92 761.23 364.97 761.58 365.50 762.52 366.16 763.35 366.42 764.64 366.42 765.93 365.89 766.87 364.84 767.69 366.02 768.75 366.42 769.10 365.10 768.51 364.58 768.28 363.52 768.28 357.60 767.81 356.28 766.87 355.36 765.69 354.96 764.05 354.96ZM766.63 360.76 766.75 360.89 766.75 363.26 766.52 363.79 765.69 364.71 764.87 365.10 763.93 365.10 763.46 364.97 762.88 364.44 762.64 363.92 762.52 362.86 762.76 361.94 763.46 361.15 764.40 360.76ZM732.47 352.33 731.53 352.86 730.36 354.04 731.42 355.09 732.35 354.04 733.06 353.65 733.65 353.51 734.82 353.65 735.29 353.91 735.99 354.83 736.11 356.81 735.64 358.26 734.58 359.97 730.59 364.71 730.59 366.16 737.87 366.16 738.11 364.71 732.71 364.71 732.59 364.58 735.41 361.28 737.05 358.91 737.75 357.07 737.87 355.62 737.40 353.91 736.23 352.59 734.82 352.07 733.41 352.07Z" stroke="#151515" stroke-width="0.05" stroke-linejoin="round"/>
<path fill="#151515" d="M809.59 366.60 809.09 366.95 808.89 367.53 808.99 367.88 809.39 368.34 809.89 368.34 810.19 368.11 810.39 367.41 809.99 366.72ZM807.60 366.60 807.10 367.07 807.00 367.76 807.30 368.22 808.00 368.34 808.40 367.88 808.40 367.18 808.10 366.72ZM832.00 366.49 831.41 366.95 831.31 367.41 831.41 367.76 831.81 368.22 832.30 368.22 832.70 367.88 832.80 367.18 832.60 366.72ZM821.35 363.02 820.85 361.87 819.65 360.48 817.36 358.40 816.86 358.17 816.17 359.32 816.56 359.79 815.87 360.36 815.47 361.52 815.47 362.21 815.87 363.37 815.77 363.60 810.49 363.60 810.19 363.48 809.69 362.91 809.69 361.98 809.89 361.17 808.99 360.94 808.50 360.94 808.10 362.79 807.70 363.37 807.30 363.60 802.32 363.60 802.02 363.48 801.62 363.02 801.22 361.29 801.02 360.94 799.63 361.40 800.13 363.14 800.23 364.76 800.03 365.45 799.43 366.14 798.53 366.49 797.14 366.49 796.44 366.14 795.84 365.22 795.84 363.95 796.14 362.79 795.15 362.33 794.85 362.33 794.45 363.60 794.35 365.68 794.85 366.95 795.55 367.64 797.04 368.22 798.53 368.22 799.73 367.88 800.43 367.41 801.22 366.37 801.62 364.87 802.52 365.33 807.30 365.33 808.50 364.87 808.99 364.29 809.39 364.87 810.49 365.33 815.47 365.33 816.46 365.10 817.16 364.76 818.66 365.33 819.75 365.33 820.45 365.10 821.15 364.41 821.35 363.72ZM819.15 362.10 819.75 362.68 819.85 363.48 819.55 363.72 818.66 363.72 818.56 363.60 818.95 363.02ZM817.16 360.83 817.66 360.94 817.86 361.29 817.86 362.21 817.36 363.02 816.96 362.56 816.76 361.98 816.86 361.17ZM797.64 358.17 797.24 358.63 797.14 358.98 797.24 359.56 797.54 359.90 798.23 359.90 798.63 359.56 798.73 359.09 798.63 358.63 798.14 358.17ZM842.66 356.32 842.17 356.78 842.07 357.48 842.36 357.94 843.06 358.05 843.46 357.59 843.46 356.90 843.16 356.44ZM840.77 356.32 840.27 356.67 840.17 357.48 840.47 357.94 841.07 358.05 841.47 357.71 841.57 357.01 841.37 356.55ZM844.46 355.86 844.76 365.22 846.15 365.22 845.95 355.86ZM822.54 355.86 822.74 363.25 823.14 364.64 824.04 365.22 824.73 365.33 830.61 365.22 832.50 364.52 833.50 363.83 834.20 364.76 834.99 365.22 840.67 365.33 842.17 364.87 842.76 364.18 842.96 363.72 843.06 361.87 842.46 359.21 841.07 359.67 841.57 361.75 841.57 363.02 840.97 363.60 835.39 363.60 835.09 363.48 834.79 363.14 835.59 362.91 835.39 361.29 834.69 361.29 832.60 360.13 831.51 359.79 829.71 359.90 829.61 360.02 829.71 361.52 829.81 361.64 831.81 361.52 833.20 362.10 833.40 362.33 832.10 363.14 830.41 363.60 824.83 363.60 824.33 363.14 824.23 362.79 824.04 355.86Z" stroke="#151515" stroke-width="0.15" stroke-linejoin="round"/>
<path fill="#151515" d="M611.40 405.12 611.40 413.77 613.04 413.77 613.04 405.12ZM597.14 405.12 599.29 413.77 601.43 413.77 602.95 406.85 603.20 406.51 603.45 407.08 604.84 413.65 604.96 413.77 607.11 413.77 609.25 405.12 607.74 405.12 605.97 412.73 605.72 412.27 604.08 405.12 602.31 405.12 600.42 412.73 600.17 412.27 598.66 405.12ZM591.59 405.01 590.33 405.47 589.45 406.28 589.19 406.97 589.32 408.12 589.70 408.70 590.46 409.27 593.74 410.31 594.37 411.00 594.37 411.92 593.74 412.62 593.10 412.85 591.34 412.85 589.70 412.04 588.82 412.85 589.57 413.42 590.96 413.88 591.72 414.00 593.74 413.88 595.25 413.19 595.75 412.62 596.01 412.04 595.88 410.43 595.50 409.85 594.87 409.39 591.46 408.24 590.83 407.54 590.83 406.97 591.46 406.28 592.10 406.05 593.86 406.16 595.12 406.74 595.75 405.93 595.12 405.47 593.74 405.01ZM578.34 405.01 577.21 405.35 576.07 406.39 575.95 406.74 576.07 408.24 576.96 409.16 577.97 409.62 580.36 410.31 581.12 411.12 581.12 411.81 580.36 412.62 579.73 412.85 577.59 412.73 576.33 412.04 575.57 412.96 577.21 413.77 578.47 414.00 579.73 414.00 581.37 413.54 582.38 412.73 582.76 411.81 582.76 410.89 582.38 410.08 581.37 409.27 578.09 408.24 577.59 407.66 577.59 406.85 577.97 406.39 578.85 406.05 580.49 406.16 581.88 406.74 582.51 405.93 580.49 405.01ZM571.66 405.12 569.51 405.01 568.38 405.47 567.50 406.28 567.24 405.12 565.98 405.12 565.98 417.34 567.50 417.23 567.50 413.19 567.62 413.08 568.63 413.77 569.39 414.00 570.52 414.00 571.53 413.77 572.16 413.42 572.79 412.85 573.30 412.04 573.80 410.08 573.80 408.70 573.55 407.31 572.92 406.05 572.16 405.35ZM569.39 406.05 570.27 406.05 570.90 406.28 571.53 406.85 572.04 408.00 572.04 409.16 572.16 409.27 572.04 410.89 571.53 412.04 571.03 412.50 570.27 412.85 568.76 412.73 568.13 412.39 567.50 411.69 567.50 407.43 568.76 406.28ZM558.41 405.01 557.65 405.24 556.77 405.81 556.01 406.74 555.38 408.70 555.38 410.43 555.64 411.46 556.27 412.62 557.40 413.54 559.04 414.00 560.93 413.88 562.83 412.96 562.32 412.27 562.07 412.15 560.43 412.85 558.66 412.73 557.53 411.81 557.15 411.00 557.02 410.08 557.15 409.96 563.08 409.96 563.21 408.81 562.95 407.43 562.20 406.05 561.06 405.24 560.30 405.01ZM557.15 407.77 557.53 406.97 558.29 406.28 558.92 406.05 559.93 406.05 560.68 406.39 561.31 407.08 561.57 407.66 561.69 408.81 561.57 408.93 557.15 408.93 557.02 408.81ZM542.89 405.01 541.76 405.35 540.62 406.39 540.50 406.74 540.62 408.24 541.51 409.16 542.52 409.62 544.91 410.31 545.67 411.12 545.67 411.81 544.91 412.62 544.28 412.85 542.14 412.73 540.88 412.04 540.12 412.96 541.76 413.77 543.02 414.00 544.28 414.00 545.92 413.54 546.93 412.73 547.31 411.81 547.31 410.89 546.93 410.08 545.92 409.27 542.64 408.24 542.14 407.66 542.14 406.85 542.52 406.39 543.40 406.05 545.04 406.16 546.43 406.74 547.06 405.93 545.04 405.01ZM622.63 405.24 621.49 404.89 620.48 404.89 619.22 405.35 618.08 406.28 617.83 405.12 616.57 405.12 616.57 413.77 618.08 413.77 618.08 407.54 619.22 406.39 619.85 406.05 621.24 406.05 622.00 406.62 622.12 406.97 622.12 413.77 623.76 413.77 623.76 407.31 623.51 406.28ZM634.36 404.20 633.22 404.66 632.09 404.89 630.20 404.89 628.30 405.24 627.80 405.47 626.66 406.62 626.41 407.31 626.54 409.04 626.92 409.62 627.92 410.31 627.04 411.35 626.92 412.15 627.17 412.73 627.67 413.19 628.68 413.54 631.96 413.65 632.84 414.46 632.84 415.15 632.34 415.84 631.46 416.19 630.57 416.30 628.18 416.07 627.55 415.61 627.29 414.81 625.91 414.81 626.16 415.96 626.41 416.42 627.04 416.88 628.68 417.34 631.08 417.34 632.72 417.00 633.73 416.42 634.11 415.96 634.36 415.38 634.36 414.11 633.98 413.42 633.48 412.96 632.09 412.39 629.19 412.39 628.43 411.92 628.43 411.23 628.81 410.77 630.83 410.89 632.09 410.54 633.22 409.62 633.73 408.35 633.73 407.54 633.22 406.51 632.09 405.81 634.74 405.47ZM629.56 405.93 630.57 405.93 631.20 406.16 631.96 406.85 632.09 407.31 632.09 408.58 631.84 409.16 631.20 409.73 630.57 409.96 629.69 409.96 628.93 409.73 628.05 408.70 627.92 408.12 628.05 407.20 628.93 406.16ZM550.21 403.05 549.96 403.16 549.96 405.01 549.83 405.12 548.19 405.12 548.19 406.16 549.71 406.16 549.96 406.39 549.96 412.39 550.46 413.31 551.35 413.88 551.73 414.00 553.62 413.88 554.50 413.42 553.87 412.50 552.99 412.85 551.98 412.73 551.47 412.15 551.47 406.28 551.60 406.16 553.49 406.16 553.74 405.12 551.60 405.12 551.47 405.01 551.47 402.93ZM529.40 402.59 525.86 409.85 525.86 411.00 530.91 411.00 531.04 411.12 531.04 413.77 532.55 413.77 532.55 411.12 532.68 411.00 534.06 411.00 534.06 409.96 532.68 409.96 532.55 409.85 532.55 406.97 531.16 406.97 531.16 408.81 530.91 409.96 527.63 409.96 527.50 409.85 530.78 403.05ZM611.90 400.86 611.40 401.09 611.15 401.55 611.15 402.24 611.78 402.82 612.53 402.82 613.04 402.59 613.29 402.24 613.29 401.55 613.04 401.09Z" stroke="#151515" stroke-width="0.15" stroke-linejoin="round"/>
<path fill="#151515" d="M576.13 441.42 575.66 441.92 575.66 442.55 576.13 443.05 576.59 443.05 577.06 442.68 577.17 442.05 576.82 441.55ZM574.04 441.42 573.57 442.05 573.57 442.55 574.04 443.05 574.50 443.05 574.97 442.68 575.08 442.05 574.73 441.55ZM601.89 440.67 601.43 441.05 601.31 441.67 601.66 442.18 602.36 442.30 602.82 441.80 602.82 441.17 602.36 440.67ZM629.05 434.15 627.66 434.91 628.47 436.66 628.59 437.54 628.47 438.29 628.00 439.17 627.19 440.04 625.34 441.05 625.80 442.30 626.50 442.18 628.12 441.17 628.82 440.55 629.75 438.92 629.98 437.41 629.86 436.41ZM607.81 434.15 606.42 434.91 607.23 436.66 607.35 437.54 607.23 438.29 606.77 439.17 605.95 440.04 604.10 441.05 604.56 442.30 605.26 442.18 606.88 441.17 607.58 440.55 608.51 438.92 608.74 437.41 608.62 436.41ZM592.03 437.91 591.56 436.54 589.47 437.29 588.89 437.04 588.08 436.03 587.97 435.53 588.43 434.53 589.13 434.15 590.63 434.28 590.75 432.77 589.01 432.65 588.20 432.90 587.38 433.40 586.80 434.15 586.57 434.91 586.57 435.91 586.92 436.79 587.50 437.54 587.27 437.79 581.35 437.79 580.31 437.41 577.29 435.28 576.71 436.66 578.10 437.54 578.45 437.91 578.33 438.29 577.17 438.92 574.73 439.04 573.81 438.79 572.88 438.16 572.53 437.41 572.53 436.16 572.88 434.91 571.95 434.53 571.60 434.53 571.02 436.91 571.14 438.04 571.72 439.29 573.11 440.30 574.27 440.55 577.29 440.42 578.80 439.79 579.84 438.67 580.89 439.29 587.15 439.29 590.29 438.67ZM625.10 433.03 624.87 432.52 623.94 431.65 622.67 431.52 621.74 432.02 620.81 433.53 620.69 435.41 621.39 436.41 622.09 436.66 623.36 436.66 623.48 436.54 623.94 436.66 623.83 437.16 623.13 437.79 618.02 437.91 615.94 437.54 615.47 437.29 614.89 436.54 614.77 435.78 615.12 434.40 613.96 434.03 613.73 434.28 613.38 435.91 613.50 437.29 613.96 438.16 614.54 438.67 616.28 439.29 622.09 439.42 624.18 438.92 624.87 438.29 625.34 437.04 625.45 434.53ZM622.78 433.03 623.25 433.03 623.71 433.53 624.06 434.53 623.94 435.03 622.55 435.16 622.20 434.91 622.09 433.90ZM631.72 429.14 631.95 437.29 632.42 438.67 633.23 439.17 633.81 439.29 640.66 439.17 642.40 438.67 645.30 437.04 646.34 436.91 646.23 435.41 645.53 435.41 644.83 435.16 643.09 434.15 642.05 433.78 639.96 433.78 639.61 433.90 639.84 435.41 640.07 435.28 642.51 435.41 643.67 435.91 643.90 436.16 643.67 436.54 641.70 437.41 639.61 437.79 634.39 437.79 633.92 437.66 633.58 437.29 633.34 436.41 633.11 429.14ZM593.42 429.14 593.65 437.04 593.88 438.16 594.46 438.92 595.63 439.29 601.54 439.29 602.82 438.79 603.40 438.16 603.75 437.04 603.75 435.91 603.40 434.03 603.05 433.15 601.66 433.53 602.36 436.03 602.36 436.91 602.01 437.54 601.20 437.79 596.21 437.79 595.51 437.54 595.16 437.04 594.81 429.14ZM564.75 429.14 564.99 439.04 565.10 439.17 566.49 439.17 566.38 434.28 566.26 434.15 566.26 429.77 566.15 429.14ZM562.90 429.14 561.39 429.14 561.50 433.15 561.62 433.28 561.62 437.16 561.27 437.66 560.11 437.79 559.42 437.41 558.95 436.79 558.02 434.66 557.21 433.90 556.05 433.78 555.12 434.28 554.42 435.03 553.26 437.29 552.68 437.79 548.16 437.79 547.46 437.54 547.11 437.16 546.07 434.28 545.84 434.28 544.68 434.91 545.49 436.91 545.37 438.54 544.79 439.54 544.10 440.17 542.35 441.05 542.82 442.43 543.40 442.30 545.37 441.05 546.07 440.30 546.76 438.79 547.69 439.29 552.92 439.29 553.61 439.04 554.42 437.91 555.24 438.79 556.51 439.42 557.67 439.29 558.37 438.54 559.76 439.29 561.16 439.29 562.20 438.92 562.78 438.29 563.13 437.04ZM556.17 435.28 556.51 435.28 557.09 435.91 557.56 436.91 557.56 437.41 557.09 437.91 556.05 437.66 555.12 436.66 555.24 436.16ZM516.36 435.53 516.47 436.66 517.29 437.66 518.21 438.04 520.07 438.04 520.19 437.91 521.12 438.92 522.16 439.29 527.62 439.29 528.66 438.92 529.24 438.29 529.70 438.92 530.52 439.29 536.09 439.29 538.06 438.92 541.08 437.29 542.01 436.91 542.70 436.91 542.59 435.41 541.89 435.41 541.19 435.16 539.45 434.15 538.41 433.78 536.32 433.78 535.97 433.90 536.20 435.41 536.44 435.28 538.87 435.41 540.03 435.91 540.27 436.16 540.03 436.54 538.06 437.41 535.97 437.79 530.87 437.79 530.52 437.66 529.94 437.04 529.82 436.66 529.59 429.14 528.08 429.14 528.20 429.27 528.20 432.77 528.31 432.90 528.31 437.16 527.96 437.66 527.50 437.79 522.51 437.79 521.93 437.54 521.46 436.54 521.23 431.52 519.84 431.52 519.84 432.40 519.61 432.65 518.56 432.90 517.40 433.65 516.82 434.28ZM519.84 434.03 520.07 436.28 519.84 436.54 518.68 436.54 518.10 436.28 517.75 435.78 517.87 435.16 518.45 434.53ZM622.67 428.39 622.32 428.76 622.20 429.39 622.55 429.89 623.25 430.02 623.71 429.52 623.71 428.76 623.36 428.39ZM520.30 428.26 519.84 428.76 519.84 429.52 520.30 429.89 520.77 429.89 521.23 429.39 521.23 428.76 520.77 428.26ZM518.21 428.26 517.75 428.76 517.75 429.39 517.98 429.77 518.68 429.89 519.14 429.39 519.14 428.76 518.68 428.26Z" stroke="#151515" stroke-width="0.35" stroke-linejoin="round"/>
<path fill="#151515" d="M718.89 404.11 718.89 413.33 720.56 413.33 720.56 404.11ZM704.32 404.11 706.51 413.33 708.70 413.33 710.25 405.95 710.51 405.58 710.77 406.20 712.18 413.21 712.31 413.33 714.50 413.33 716.70 404.11 715.15 404.11 713.34 412.22 713.09 411.73 711.41 404.11 709.61 404.11 707.67 412.22 707.41 411.73 705.87 404.11ZM730.36 404.23 729.20 403.86 728.17 403.86 726.88 404.36 725.72 405.34 725.46 404.11 724.17 404.11 724.17 413.33 725.72 413.33 725.72 406.69 726.88 405.46 727.52 405.09 728.94 405.09 729.72 405.71 729.84 406.08 729.84 413.33 731.52 413.33 731.52 406.44 731.26 405.34ZM742.35 403.13 741.19 403.62 740.03 403.86 738.09 403.86 736.16 404.23 735.65 404.48 734.49 405.71 734.23 406.44 734.36 408.29 734.74 408.90 735.77 409.64 734.87 410.75 734.74 411.61 735.00 412.22 735.52 412.71 736.55 413.08 739.90 413.21 740.80 414.07 740.80 414.80 740.29 415.54 739.38 415.91 738.48 416.03 736.03 415.79 735.39 415.29 735.13 414.43 733.71 414.43 733.97 415.66 734.23 416.16 734.87 416.65 736.55 417.14 739.00 417.14 740.67 416.77 741.70 416.16 742.09 415.66 742.35 415.05 742.35 413.70 741.96 412.96 741.45 412.47 740.03 411.85 737.06 411.85 736.29 411.36 736.29 410.62 736.68 410.13 738.74 410.26 740.03 409.89 741.19 408.90 741.70 407.55 741.70 406.69 741.19 405.58 740.03 404.85 742.74 404.48ZM737.45 404.97 738.48 404.97 739.13 405.22 739.90 405.95 740.03 406.44 740.03 407.80 739.77 408.41 739.13 409.03 738.48 409.27 737.58 409.27 736.81 409.03 735.90 407.92 735.77 407.31 735.90 406.32 736.81 405.22ZM697.62 401.04 696.07 401.65 695.17 402.51 694.78 403.37 694.91 405.34 695.17 405.83 696.33 406.81 700.45 408.41 701.23 409.39 701.23 410.75 701.10 411.12 700.32 411.85 699.03 412.34 697.23 412.22 695.81 411.61 695.17 411.12 694.26 412.10 695.42 412.96 696.33 413.33 697.49 413.57 699.29 413.57 700.84 413.21 702.13 412.34 702.51 411.85 703.03 410.38 702.90 408.90 702.51 408.17 701.23 407.06 698.26 406.08 697.10 405.46 696.58 404.97 696.46 404.60 696.46 403.49 697.23 402.63 698.26 402.27 699.94 402.39 701.10 402.88 701.48 403.25 701.74 403.25 702.39 402.63 702.51 402.27 701.61 401.65 700.45 401.16ZM719.40 399.56 718.89 399.81 718.63 400.30 718.63 401.04 719.27 401.65 720.05 401.65 720.56 401.41 720.82 401.04 720.82 400.30 720.56 399.81Z" stroke="#151515" stroke-width="0.12" stroke-linejoin="round"/>
<path fill="#151515" d="M722.68 440.06 722.25 440.42 722.15 440.90 722.47 441.50 723.11 441.62 723.54 441.14 723.54 440.54 723.11 440.06ZM713.90 440.06 713.58 440.30 713.36 440.90 713.68 441.50 714.33 441.62 714.76 441.14 714.76 440.54 714.33 440.06ZM711.97 440.06 711.54 440.54 711.54 441.26 711.97 441.62 712.40 441.62 712.83 441.14 712.83 440.54 712.40 440.06ZM739.18 432.74 737.89 433.22 738.43 435.14 738.53 436.34 738.43 436.70 738.00 437.18 737.46 437.30 732.00 437.30 731.79 437.06 731.79 436.10 731.57 435.26 730.61 433.94 730.07 433.70 729.21 433.70 728.57 434.06 727.72 435.26 727.39 436.46 727.50 437.66 727.93 438.26 728.47 438.62 730.18 438.86 729.54 439.58 729.11 439.82 727.18 440.30 727.39 441.62 727.50 441.74 728.57 441.62 730.18 440.90 731.04 440.06 731.68 438.74 737.46 438.74 738.10 438.62 739.07 438.14 739.60 437.42 739.82 436.22 739.71 434.78ZM729.32 435.26 729.86 435.26 730.29 435.74 730.50 436.46 730.39 437.30 729.21 437.30 728.79 436.94 728.68 436.70 728.79 435.98ZM701.15 435.14 701.26 436.22 702.01 437.18 702.87 437.54 704.58 437.54 704.69 437.42 705.54 438.38 706.51 438.74 711.65 438.74 712.29 438.62 712.93 438.26 713.36 437.78 713.68 438.26 714.86 438.74 720.22 438.74 722.36 438.26 725.04 436.70 726.32 436.34 726.11 435.02 725.14 434.90 723.32 433.82 722.25 433.46 720.43 433.46 720.11 433.58 720.33 435.02 720.54 434.90 722.79 435.02 724.07 435.74 723.65 436.22 722.04 436.94 720.11 437.30 715.08 437.30 714.43 437.06 714.01 436.58 714.01 435.74 714.22 434.78 712.93 434.54 712.61 436.34 711.86 437.18 711.44 437.30 706.83 437.30 706.19 436.94 705.87 436.10 705.65 431.30 704.37 431.30 704.37 432.14 704.15 432.38 703.19 432.62 702.12 433.34 701.58 433.94ZM704.37 433.70 704.58 435.86 704.37 436.10 703.30 436.10 702.76 435.86 702.44 435.38 702.55 434.78 703.08 434.18ZM739.28 429.86 738.85 430.46 738.85 430.94 739.28 431.42 739.71 431.42 740.14 431.06 740.25 430.58 739.93 429.98ZM737.35 429.86 736.93 430.46 736.93 430.94 737.25 431.30 737.78 431.42 738.21 431.06 738.32 430.46 738.00 429.98Z" stroke="#151515" stroke-width="0.35" stroke-linejoin="round"/>
<path fill="#151515" d="M840.55 402.79 839.32 403.32 838.47 404.26 838.22 405.06 838.34 406.41 838.71 407.08 839.45 407.75 842.63 408.95 843.25 409.76 843.25 410.83 842.63 411.64 842.02 411.90 840.30 411.90 838.71 410.96 837.85 411.90 838.59 412.57 839.94 413.11 840.67 413.24 842.63 413.11 844.10 412.31 844.59 411.64 844.84 410.96 844.72 409.09 844.35 408.42 843.74 407.88 840.43 406.54 839.81 405.74 839.81 405.06 840.43 404.26 841.04 403.99 842.75 404.13 843.98 404.80 844.59 403.86 843.98 403.32 842.63 402.79ZM834.42 403.05 833.68 402.79 831.97 402.79 831.11 403.19 830.13 404.26 829.88 403.72 829.88 402.92 828.66 402.92 828.54 403.05 828.54 417.13 830.13 416.86 830.13 412.31 830.25 412.17 830.74 412.71 831.97 413.24 833.56 413.11 834.79 412.44 835.77 410.83 836.14 409.36 836.01 405.74 835.65 404.53 835.16 403.72ZM831.97 403.99 832.83 403.99 833.56 404.39 834.30 405.60 834.54 406.81 834.54 409.09 834.30 410.29 834.05 410.83 833.32 411.64 832.70 411.90 831.60 411.90 830.99 411.64 830.13 410.70 830.13 405.60 831.11 404.39ZM821.18 402.79 819.96 403.46 818.85 404.93 818.36 406.54 818.36 407.88 818.24 408.01 818.36 409.49 818.85 411.10 819.34 411.90 820.08 412.57 821.18 413.11 823.14 413.24 825.23 412.31 825.47 412.04 825.23 411.50 824.74 411.10 824.25 411.50 823.14 411.90 821.55 411.77 821.06 411.50 820.32 410.56 819.96 409.49 819.96 408.69 820.08 408.55 825.84 408.55 825.72 405.87 825.23 404.53 824.25 403.32 823.14 402.79ZM820.45 404.93 821.30 404.13 821.67 403.99 823.02 404.13 824.12 405.33 824.37 406.27 824.37 407.21 824.25 407.34 820.08 407.34 819.96 406.41ZM813.22 400.51 812.97 400.64 812.97 402.79 812.85 402.92 811.38 402.92 811.38 404.13 812.85 404.13 812.97 404.26 812.97 411.10 813.34 412.17 814.32 413.11 814.81 413.24 816.52 413.11 817.38 412.57 816.89 411.50 815.91 411.90 815.30 411.90 814.56 411.23 814.44 410.70 814.44 404.26 814.56 404.13 816.52 404.13 816.65 402.92 814.56 402.92 814.44 402.79 814.44 400.37ZM805.25 399.57 803.78 400.24 802.92 401.18 802.55 402.11 802.67 404.26 802.92 404.80 804.02 405.87 807.94 407.61 808.68 408.69 808.68 410.16 808.56 410.56 807.82 411.37 806.60 411.90 804.88 411.77 803.53 411.10 802.92 410.56 802.06 411.64 803.16 412.57 804.02 412.98 805.13 413.24 806.84 413.24 808.31 412.84 809.54 411.90 809.91 411.37 810.40 409.76 810.27 408.15 809.91 407.34 808.68 406.14 805.86 405.06 804.76 404.39 804.27 403.86 804.14 403.46 804.14 402.25 804.88 401.31 805.86 400.91 807.45 401.04 808.56 401.58 808.93 401.98 809.17 401.98 809.78 401.31 809.91 400.91 809.05 400.24 807.94 399.70Z" stroke="#151515" stroke-width="0.12" stroke-linejoin="round"/>
<path fill="#151515" d="M818.37 440.32 818.06 440.63 818.06 441.04 818.37 441.34 818.78 441.34 819.09 441.04 819.09 440.73 818.88 440.42ZM816.83 440.32 816.52 440.63 816.52 441.14 816.83 441.34 817.24 441.34 817.55 440.83 817.35 440.42ZM844.65 436.76 844.24 435.94 843.62 435.33 843.21 435.13 842.49 435.13 842.08 435.33 841.47 435.94 840.65 437.57 840.03 438.28 839.11 438.39 838.59 438.18 838.18 437.67 837.87 436.25 837.87 435.33 837.05 435.33 837.16 435.43 837.26 437.57 837.16 437.88 836.75 438.28 835.72 438.39 835.21 438.18 835.00 437.98 835.00 437.06 835.21 436.15 834.38 436.04 834.08 437.78 833.77 438.18 833.36 438.39 832.23 438.28 831.92 437.98 831.92 437.06 832.13 436.35 831.61 436.15 831.30 436.15 831.00 437.57 830.48 438.28 828.94 438.39 828.43 438.28 828.02 437.98 827.92 437.27 828.12 436.15 827.40 436.04 826.99 437.78 826.58 438.18 825.86 438.39 824.43 438.39 824.22 436.86 823.91 436.15 822.99 435.43 822.17 435.43 821.55 435.74 820.84 436.76 820.63 437.78 820.73 438.39 821.66 439.10 823.20 439.20 823.30 439.41 822.17 440.53 820.42 440.93 820.63 441.75 822.37 441.34 823.09 440.93 823.71 440.32 824.33 439.20 826.17 439.20 827.10 438.90 827.51 438.49 827.82 438.90 828.84 439.20 830.69 439.10 831.41 438.49 831.92 439.00 832.43 439.20 833.56 439.20 834.08 439.00 834.49 438.59 835.51 439.20 836.44 439.20 837.16 438.90 837.67 438.28 838.39 439.00 839.00 439.20 840.23 439.10 840.95 438.49 842.49 439.10 843.52 439.10 844.14 438.79 844.55 438.28ZM822.07 436.35 822.68 436.25 823.20 436.65 823.50 437.37 823.40 438.39 822.37 438.39 821.55 437.98 821.45 437.67 821.55 437.06ZM842.39 436.04 842.70 435.94 843.21 436.04 843.83 436.76 843.93 437.78 843.31 438.28 842.19 438.18 841.36 437.67 841.98 436.45ZM812.42 436.15 811.91 434.62 811.08 434.92 811.29 435.23 811.70 436.76 811.60 437.47 810.78 438.08 809.44 438.39 805.34 438.49 804.10 438.28 803.49 437.98 803.08 437.57 802.98 436.15 803.18 435.53 802.36 435.33 802.05 437.16 802.46 438.28 803.08 438.79 803.90 439.10 805.03 439.30 809.34 439.20 810.47 439.00 811.60 438.59 812.21 437.98 812.42 437.57 812.52 436.96ZM828.23 433.70 827.92 434.01 827.92 434.52 828.23 434.72 828.64 434.72 828.94 434.21 828.84 433.90 828.53 433.70ZM826.69 433.70 826.38 433.90 826.28 434.31 826.58 434.72 826.99 434.72 827.30 434.41 827.30 434.01 826.99 433.70ZM807.90 433.50 807.59 433.80 807.59 434.21 807.90 434.52 808.31 434.52 808.62 433.90 808.42 433.60ZM806.36 433.50 806.05 433.70 805.95 434.01 806.16 434.41 806.67 434.52 806.98 434.31 806.98 433.70 806.67 433.50ZM813.96 431.05 814.06 434.21 814.16 434.31 814.16 437.06 814.27 437.98 814.57 438.69 815.19 439.10 815.70 439.20 817.24 439.20 818.47 438.79 818.88 438.39 819.09 437.88 819.09 436.35 818.58 434.62 817.76 434.92 818.37 436.96 818.37 437.67 818.06 438.18 817.35 438.39 816.01 438.39 815.60 438.28 815.19 437.88 814.98 436.25 814.88 431.05Z" stroke="#151515" stroke-width="0.2" stroke-linejoin="round"/>
</svg></body></html>
